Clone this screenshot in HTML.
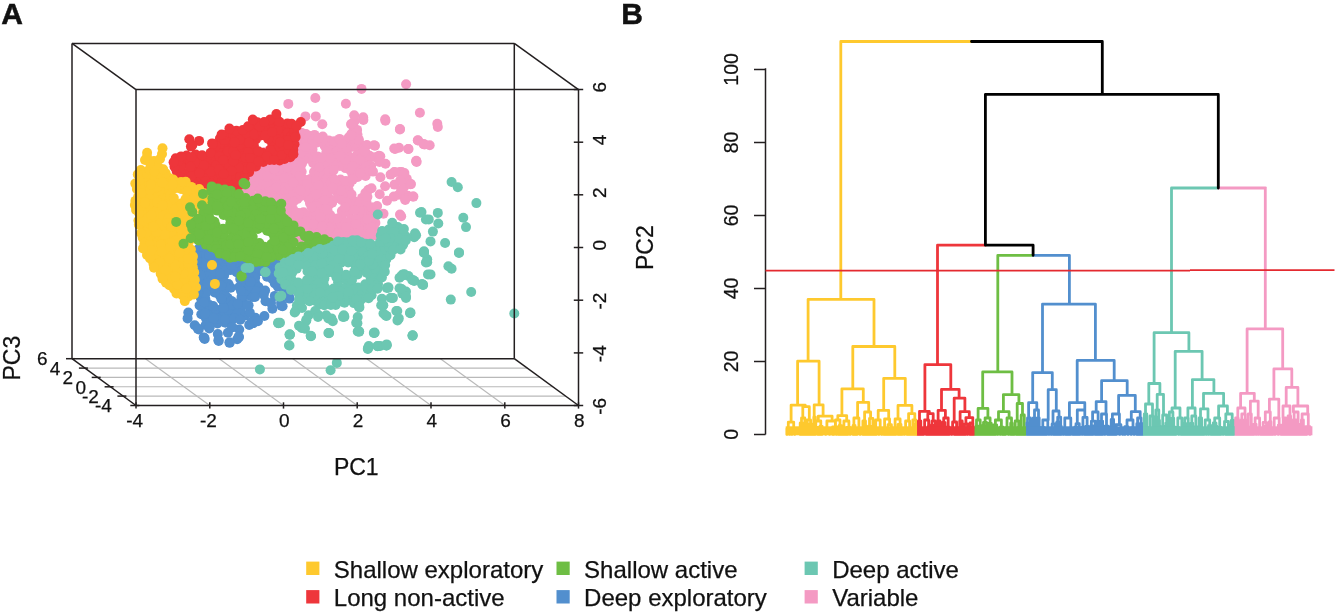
<!DOCTYPE html>
<html><head><meta charset="utf-8"><title>Figure</title>
<style>html,body{margin:0;padding:0;background:#fff;}body{width:1339px;height:614px;overflow:hidden;font-family:"Liberation Sans", sans-serif;}svg{display:block;will-change:transform;}</style>
</head><body><svg width="1339" height="614" viewBox="0 0 1339 614"><rect width="1339" height="614" fill="#fff"/><g stroke="#b9b9b9" stroke-width="1.1"><line x1="84.9" y1="368.1" x2="527.2" y2="368.1"/><line x1="97.7" y1="377.4" x2="540.0" y2="377.4"/><line x1="110.6" y1="386.8" x2="552.9" y2="386.8"/><line x1="123.4" y1="396.1" x2="565.7" y2="396.1"/><line x1="209.8" y1="405.5" x2="145.4" y2="358.7"/><line x1="283.5" y1="405.5" x2="219.2" y2="358.7"/><line x1="357.2" y1="405.5" x2="292.9" y2="358.7"/><line x1="431.0" y1="405.5" x2="366.7" y2="358.7"/><line x1="504.8" y1="405.5" x2="440.4" y2="358.7"/></g><g fill="#f49ac3"><circle cx="347.7" cy="155.1" r="5.0"/><circle cx="310.5" cy="178.9" r="5.0"/><circle cx="332.2" cy="220.5" r="5.0"/><circle cx="357.7" cy="176.9" r="5.0"/><circle cx="303.5" cy="212.3" r="5.0"/><circle cx="245.2" cy="190.2" r="5.0"/><circle cx="271.8" cy="175.6" r="5.0"/><circle cx="302.5" cy="184.6" r="5.0"/><circle cx="274.1" cy="152.1" r="5.0"/><circle cx="272.1" cy="180.2" r="5.0"/><circle cx="330.9" cy="146.6" r="5.0"/><circle cx="258.5" cy="164.6" r="5.0"/><circle cx="341.9" cy="211.0" r="5.0"/><circle cx="356.9" cy="206.0" r="5.0"/><circle cx="283.8" cy="195.9" r="5.0"/><circle cx="364.2" cy="227.6" r="5.0"/><circle cx="311.8" cy="196.0" r="5.0"/><circle cx="352.4" cy="174.6" r="5.0"/><circle cx="265.7" cy="191.1" r="5.0"/><circle cx="293.7" cy="177.6" r="5.0"/><circle cx="312.3" cy="219.3" r="5.0"/><circle cx="314.0" cy="172.0" r="5.0"/><circle cx="247.7" cy="210.1" r="5.0"/><circle cx="296.3" cy="144.7" r="5.0"/><circle cx="348.7" cy="190.0" r="5.0"/><circle cx="361.1" cy="152.3" r="5.0"/><circle cx="313.0" cy="240.6" r="5.0"/><circle cx="321.9" cy="180.1" r="5.0"/><circle cx="279.1" cy="191.0" r="5.0"/><circle cx="350.5" cy="224.4" r="5.0"/><circle cx="364.7" cy="214.6" r="5.0"/><circle cx="319.6" cy="176.0" r="5.0"/><circle cx="311.8" cy="183.3" r="5.0"/><circle cx="291.2" cy="166.2" r="5.0"/><circle cx="316.5" cy="200.3" r="5.0"/><circle cx="326.7" cy="180.0" r="5.0"/><circle cx="266.3" cy="195.5" r="5.0"/><circle cx="361.2" cy="221.7" r="5.0"/><circle cx="277.1" cy="227.0" r="5.0"/><circle cx="256.9" cy="200.4" r="5.0"/><circle cx="265.0" cy="157.3" r="5.0"/><circle cx="340.5" cy="179.6" r="5.0"/><circle cx="286.4" cy="181.9" r="5.0"/><circle cx="300.1" cy="146.8" r="5.0"/><circle cx="312.5" cy="149.4" r="5.0"/><circle cx="325.8" cy="224.0" r="5.0"/><circle cx="262.0" cy="212.0" r="5.0"/><circle cx="335.8" cy="190.6" r="5.0"/><circle cx="272.7" cy="203.3" r="5.0"/><circle cx="296.5" cy="194.4" r="5.0"/><circle cx="286.3" cy="201.2" r="5.0"/><circle cx="376.1" cy="231.2" r="5.0"/><circle cx="284.2" cy="229.1" r="5.0"/><circle cx="355.5" cy="241.8" r="5.0"/><circle cx="339.4" cy="186.2" r="5.0"/><circle cx="256.2" cy="205.5" r="5.0"/><circle cx="282.8" cy="185.1" r="5.0"/><circle cx="269.6" cy="164.0" r="5.0"/><circle cx="288.8" cy="149.9" r="5.0"/><circle cx="335.3" cy="226.5" r="5.0"/><circle cx="371.1" cy="166.0" r="5.0"/><circle cx="364.2" cy="208.1" r="5.0"/><circle cx="274.3" cy="212.8" r="5.0"/><circle cx="347.1" cy="197.4" r="5.0"/><circle cx="358.5" cy="168.9" r="5.0"/><circle cx="288.9" cy="159.5" r="5.0"/><circle cx="362.1" cy="197.9" r="5.0"/><circle cx="260.5" cy="191.4" r="5.0"/><circle cx="350.2" cy="170.1" r="5.0"/><circle cx="365.4" cy="193.0" r="5.0"/><circle cx="280.2" cy="220.3" r="5.0"/><circle cx="367.9" cy="159.8" r="5.0"/><circle cx="276.9" cy="182.3" r="5.0"/><circle cx="284.4" cy="154.0" r="5.0"/><circle cx="332.2" cy="202.7" r="5.0"/><circle cx="284.3" cy="163.9" r="5.0"/><circle cx="288.1" cy="190.5" r="5.0"/><circle cx="322.1" cy="196.9" r="5.0"/><circle cx="252.1" cy="201.7" r="5.0"/><circle cx="310.2" cy="229.6" r="5.0"/><circle cx="263.1" cy="185.3" r="5.0"/><circle cx="352.1" cy="133.2" r="5.0"/><circle cx="355.7" cy="163.0" r="5.0"/><circle cx="256.5" cy="186.9" r="5.0"/><circle cx="285.6" cy="234.6" r="5.0"/><circle cx="353.3" cy="235.0" r="5.0"/><circle cx="358.4" cy="215.3" r="5.0"/><circle cx="337.4" cy="145.6" r="5.0"/><circle cx="375.4" cy="222.9" r="5.0"/><circle cx="318.0" cy="190.2" r="5.0"/><circle cx="296.6" cy="165.3" r="5.0"/><circle cx="331.4" cy="174.9" r="5.0"/><circle cx="291.0" cy="140.7" r="5.0"/><circle cx="297.4" cy="198.9" r="5.0"/><circle cx="308.2" cy="151.4" r="5.0"/><circle cx="367.6" cy="236.3" r="5.0"/><circle cx="279.9" cy="203.1" r="5.0"/><circle cx="263.8" cy="217.7" r="5.0"/><circle cx="364.3" cy="162.0" r="5.0"/><circle cx="293.3" cy="209.8" r="5.0"/><circle cx="360.6" cy="233.8" r="5.0"/><circle cx="271.9" cy="193.6" r="5.0"/><circle cx="353.9" cy="200.9" r="5.0"/><circle cx="303.5" cy="237.2" r="5.0"/><circle cx="264.6" cy="163.7" r="5.0"/><circle cx="325.1" cy="173.9" r="5.0"/><circle cx="258.1" cy="160.0" r="5.0"/><circle cx="328.8" cy="198.1" r="5.0"/><circle cx="357.7" cy="149.1" r="5.0"/><circle cx="276.5" cy="207.6" r="5.0"/><circle cx="294.9" cy="158.6" r="5.0"/><circle cx="258.1" cy="215.4" r="5.0"/><circle cx="317.4" cy="242.1" r="5.0"/><circle cx="347.4" cy="243.2" r="5.0"/><circle cx="321.2" cy="162.0" r="5.0"/><circle cx="303.1" cy="178.9" r="5.0"/><circle cx="284.0" cy="172.8" r="5.0"/><circle cx="350.4" cy="207.6" r="5.0"/><circle cx="310.0" cy="203.2" r="5.0"/><circle cx="294.1" cy="148.8" r="5.0"/><circle cx="324.7" cy="231.9" r="5.0"/><circle cx="284.1" cy="144.7" r="5.0"/><circle cx="327.8" cy="188.9" r="5.0"/><circle cx="298.0" cy="229.4" r="5.0"/><circle cx="322.8" cy="213.8" r="5.0"/><circle cx="310.1" cy="215.3" r="5.0"/><circle cx="371.8" cy="219.8" r="5.0"/><circle cx="340.0" cy="231.0" r="5.0"/><circle cx="317.3" cy="142.4" r="5.0"/><circle cx="300.4" cy="167.3" r="5.0"/><circle cx="337.3" cy="198.0" r="5.0"/><circle cx="270.7" cy="149.3" r="5.0"/><circle cx="364.7" cy="156.8" r="5.0"/><circle cx="265.1" cy="203.9" r="5.0"/><circle cx="340.7" cy="223.7" r="5.0"/><circle cx="279.1" cy="198.6" r="5.0"/><circle cx="328.1" cy="162.6" r="5.0"/><circle cx="301.6" cy="217.2" r="5.0"/><circle cx="350.7" cy="147.1" r="5.0"/><circle cx="325.9" cy="155.9" r="5.0"/><circle cx="291.8" cy="215.9" r="5.0"/><circle cx="341.4" cy="161.3" r="5.0"/><circle cx="256.5" cy="172.5" r="5.0"/><circle cx="310.0" cy="136.0" r="5.0"/><circle cx="289.2" cy="226.6" r="5.0"/><circle cx="265.1" cy="152.2" r="5.0"/><circle cx="352.4" cy="229.0" r="5.0"/><circle cx="322.3" cy="236.5" r="5.0"/><circle cx="347.0" cy="142.5" r="5.0"/><circle cx="249.6" cy="170.3" r="5.0"/><circle cx="259.7" cy="180.6" r="5.0"/><circle cx="330.2" cy="215.1" r="5.0"/><circle cx="329.3" cy="242.7" r="5.0"/><circle cx="330.8" cy="153.6" r="5.0"/><circle cx="323.7" cy="166.7" r="5.0"/><circle cx="290.7" cy="174.4" r="5.0"/><circle cx="341.8" cy="216.0" r="5.0"/><circle cx="303.2" cy="139.5" r="5.0"/><circle cx="314.5" cy="134.9" r="5.0"/><circle cx="322.8" cy="136.6" r="5.0"/><circle cx="316.1" cy="233.8" r="5.0"/><circle cx="263.5" cy="169.2" r="5.0"/><circle cx="286.9" cy="215.6" r="5.0"/><circle cx="311.3" cy="188.3" r="5.0"/><circle cx="308.3" cy="235.8" r="5.0"/><circle cx="345.4" cy="168.1" r="5.0"/><circle cx="297.6" cy="180.8" r="5.0"/><circle cx="298.8" cy="213.1" r="5.0"/><circle cx="317.5" cy="156.4" r="5.0"/><circle cx="359.8" cy="202.7" r="5.0"/><circle cx="359.4" cy="210.9" r="5.0"/><circle cx="281.1" cy="233.1" r="5.0"/><circle cx="365.6" cy="176.0" r="5.0"/><circle cx="269.7" cy="215.4" r="5.0"/><circle cx="297.5" cy="238.7" r="5.0"/><circle cx="306.2" cy="221.4" r="5.0"/><circle cx="349.6" cy="183.4" r="5.0"/><circle cx="308.3" cy="240.6" r="5.0"/><circle cx="357.5" cy="134.7" r="5.0"/><circle cx="278.5" cy="158.0" r="5.0"/><circle cx="295.3" cy="234.8" r="5.0"/><circle cx="269.6" cy="187.7" r="5.0"/><circle cx="279.8" cy="210.4" r="5.0"/><circle cx="298.8" cy="139.7" r="5.0"/><circle cx="324.8" cy="241.5" r="5.0"/><circle cx="262.4" cy="174.5" r="5.0"/><circle cx="278.8" cy="150.1" r="5.0"/><circle cx="336.8" cy="151.5" r="5.0"/><circle cx="336.2" cy="244.6" r="5.0"/><circle cx="289.0" cy="197.5" r="5.0"/><circle cx="276.5" cy="218.2" r="5.0"/><circle cx="252.4" cy="212.7" r="5.0"/><circle cx="336.0" cy="157.3" r="5.0"/><circle cx="313.2" cy="163.3" r="5.0"/><circle cx="366.4" cy="201.4" r="5.0"/><circle cx="317.3" cy="227.3" r="5.0"/><circle cx="358.5" cy="227.8" r="5.0"/><circle cx="249.1" cy="181.5" r="5.0"/><circle cx="275.7" cy="222.9" r="5.0"/><circle cx="289.8" cy="204.4" r="5.0"/><circle cx="249.4" cy="177.1" r="5.0"/><circle cx="335.1" cy="233.1" r="5.0"/><circle cx="340.3" cy="243.4" r="5.0"/><circle cx="294.9" cy="226.1" r="5.0"/><circle cx="307.1" cy="184.2" r="5.0"/><circle cx="349.0" cy="212.5" r="5.0"/><circle cx="370.4" cy="226.8" r="5.0"/><circle cx="352.5" cy="159.2" r="5.0"/><circle cx="368.4" cy="189.7" r="5.0"/><circle cx="349.3" cy="238.5" r="5.0"/><circle cx="323.0" cy="186.7" r="5.0"/><circle cx="371.6" cy="212.7" r="5.0"/><circle cx="330.7" cy="182.5" r="5.0"/><circle cx="296.6" cy="171.5" r="5.0"/><circle cx="269.6" cy="224.0" r="5.0"/><circle cx="306.6" cy="142.1" r="5.0"/><circle cx="321.9" cy="191.7" r="5.0"/><circle cx="285.5" cy="223.4" r="5.0"/><circle cx="308.6" cy="199.0" r="5.0"/><circle cx="300.2" cy="157.1" r="5.0"/><circle cx="291.6" cy="231.4" r="5.0"/><circle cx="305.3" cy="226.1" r="5.0"/><circle cx="301.0" cy="196.0" r="5.0"/><circle cx="351.0" cy="218.9" r="5.0"/><circle cx="351.5" cy="194.4" r="5.0"/><circle cx="329.8" cy="227.7" r="5.0"/><circle cx="323.4" cy="205.2" r="5.0"/><circle cx="342.1" cy="150.7" r="5.0"/><circle cx="270.8" cy="159.2" r="5.0"/><circle cx="328.6" cy="205.3" r="5.0"/><circle cx="339.9" cy="165.9" r="5.0"/><circle cx="319.9" cy="222.6" r="5.0"/><circle cx="365.5" cy="152.3" r="5.0"/><circle cx="328.6" cy="170.9" r="5.0"/><circle cx="323.5" cy="220.3" r="5.0"/><circle cx="259.5" cy="208.5" r="5.0"/><circle cx="345.0" cy="231.6" r="5.0"/><circle cx="293.2" cy="191.7" r="5.0"/><circle cx="312.7" cy="139.7" r="5.0"/><circle cx="276.7" cy="175.6" r="5.0"/><circle cx="328.8" cy="140.4" r="5.0"/><circle cx="334.1" cy="165.7" r="5.0"/><circle cx="301.8" cy="132.9" r="5.0"/><circle cx="296.8" cy="187.8" r="5.0"/><circle cx="320.4" cy="231.0" r="5.0"/><circle cx="247.0" cy="186.0" r="5.0"/><circle cx="320.8" cy="209.6" r="5.0"/><circle cx="305.3" cy="191.5" r="5.0"/><circle cx="324.7" cy="145.9" r="5.0"/><circle cx="312.1" cy="143.9" r="5.0"/><circle cx="326.5" cy="151.4" r="5.0"/><circle cx="304.7" cy="231.4" r="5.0"/><circle cx="347.2" cy="164.0" r="5.0"/><circle cx="301.9" cy="222.9" r="5.0"/><circle cx="285.7" cy="140.6" r="5.0"/><circle cx="291.5" cy="145.1" r="5.0"/><circle cx="365.8" cy="166.5" r="5.0"/><circle cx="348.8" cy="137.3" r="5.0"/><circle cx="334.3" cy="141.3" r="5.0"/><circle cx="334.6" cy="179.8" r="5.0"/><circle cx="327.3" cy="193.4" r="5.0"/><circle cx="367.4" cy="219.3" r="5.0"/><circle cx="316.5" cy="206.5" r="5.0"/><circle cx="293.0" cy="135.6" r="5.0"/><circle cx="279.0" cy="145.1" r="5.0"/><circle cx="356.5" cy="155.6" r="5.0"/><circle cx="316.8" cy="160.9" r="5.0"/><circle cx="316.3" cy="218.2" r="5.0"/><circle cx="337.3" cy="237.6" r="5.0"/><circle cx="246.4" cy="201.9" r="5.0"/><circle cx="360.6" cy="144.8" r="5.0"/><circle cx="242.4" cy="182.8" r="5.0"/><circle cx="314.4" cy="211.4" r="5.0"/><circle cx="278.4" cy="166.6" r="5.0"/><circle cx="266.7" cy="182.6" r="5.0"/><circle cx="268.7" cy="210.4" r="5.0"/><circle cx="374.6" cy="235.3" r="5.0"/><circle cx="253.9" cy="182.7" r="5.0"/><circle cx="247.2" cy="195.8" r="5.0"/><circle cx="358.9" cy="139.7" r="5.0"/><circle cx="264.9" cy="208.1" r="5.0"/><circle cx="293.3" cy="201.9" r="5.0"/><circle cx="312.7" cy="157.1" r="5.0"/><circle cx="278.4" cy="170.9" r="5.0"/><circle cx="285.1" cy="207.9" r="5.0"/><circle cx="342.1" cy="195.3" r="5.0"/><circle cx="355.7" cy="143.3" r="5.0"/><circle cx="254.8" cy="176.6" r="5.0"/><circle cx="251.8" cy="208.2" r="5.0"/><circle cx="352.0" cy="165.9" r="5.0"/><circle cx="327.4" cy="209.8" r="5.0"/><circle cx="244.3" cy="178.2" r="5.0"/><circle cx="265.1" cy="222.9" r="5.0"/><circle cx="345.3" cy="222.4" r="5.0"/><circle cx="272.1" cy="229.2" r="5.0"/><circle cx="341.6" cy="239.0" r="5.0"/><circle cx="322.2" cy="141.1" r="5.0"/><circle cx="301.7" cy="171.8" r="5.0"/><circle cx="339.6" cy="138.9" r="5.0"/><circle cx="289.9" cy="185.8" r="5.0"/><circle cx="311.6" cy="207.2" r="5.0"/><circle cx="318.6" cy="138.2" r="5.0"/><circle cx="319.8" cy="171.8" r="5.0"/><circle cx="308.0" cy="158.4" r="5.0"/><circle cx="270.6" cy="198.5" r="5.0"/><circle cx="283.3" cy="149.6" r="5.0"/><circle cx="276.2" cy="187.3" r="5.0"/><circle cx="370.3" cy="232.6" r="5.0"/><circle cx="303.9" cy="159.6" r="5.0"/><circle cx="306.0" cy="134.0" r="5.0"/><circle cx="341.9" cy="200.1" r="5.0"/><circle cx="330.9" cy="237.0" r="5.0"/><circle cx="313.7" cy="224.4" r="5.0"/><circle cx="294.4" cy="221.5" r="5.0"/><circle cx="345.4" cy="159.7" r="5.0"/><circle cx="333.7" cy="170.1" r="5.0"/><circle cx="268.9" cy="168.6" r="5.0"/><circle cx="345.9" cy="227.1" r="5.0"/><circle cx="345.0" cy="187.5" r="5.0"/><circle cx="355.9" cy="219.1" r="5.0"/><circle cx="320.5" cy="217.3" r="5.0"/><circle cx="254.3" cy="166.7" r="5.0"/><circle cx="367.4" cy="196.8" r="5.0"/><circle cx="371.4" cy="207.3" r="5.0"/><circle cx="253.9" cy="162.1" r="5.0"/><circle cx="354.1" cy="139.1" r="5.0"/><circle cx="346.4" cy="148.3" r="5.0"/><circle cx="369.6" cy="155.7" r="5.0"/><circle cx="252.2" cy="195.9" r="5.0"/><circle cx="300.5" cy="190.5" r="5.0"/><circle cx="346.1" cy="202.3" r="5.0"/><circle cx="287.2" cy="167.5" r="5.0"/><circle cx="316.0" cy="180.7" r="5.0"/><circle cx="288.9" cy="178.4" r="5.0"/><circle cx="316.3" cy="194.4" r="5.0"/><circle cx="369.0" cy="170.6" r="5.0"/><circle cx="355.9" cy="130.7" r="5.0"/><circle cx="292.1" cy="238.7" r="5.0"/><circle cx="341.9" cy="144.1" r="5.0"/><circle cx="346.0" cy="181.1" r="5.0"/><circle cx="270.7" cy="219.9" r="5.0"/><circle cx="318.4" cy="185.0" r="5.0"/><circle cx="284.2" cy="178.0" r="5.0"/><circle cx="250.1" cy="190.1" r="5.0"/><circle cx="330.1" cy="157.9" r="5.0"/><circle cx="360.1" cy="239.6" r="5.0"/><circle cx="340.3" cy="156.1" r="5.0"/><circle cx="322.2" cy="226.4" r="5.0"/><circle cx="275.0" cy="197.9" r="5.0"/><circle cx="301.2" cy="152.4" r="5.0"/><circle cx="293.5" cy="182.6" r="5.0"/><circle cx="294.0" cy="153.8" r="5.0"/><circle cx="260.7" cy="203.6" r="5.0"/><circle cx="274.9" cy="148.0" r="5.0"/><circle cx="321.7" cy="157.6" r="5.0"/><circle cx="379.1" cy="234.9" r="5.0"/><circle cx="305.5" cy="147.0" r="5.0"/><circle cx="353.3" cy="125.9" r="5.0"/><circle cx="282.9" cy="159.6" r="5.0"/><circle cx="319.2" cy="167.2" r="5.0"/><circle cx="278.2" cy="162.2" r="5.0"/><circle cx="340.5" cy="190.4" r="5.0"/><circle cx="359.9" cy="159.5" r="5.0"/><circle cx="325.0" cy="200.0" r="5.0"/><circle cx="248.3" cy="205.8" r="5.0"/><circle cx="355.9" cy="224.1" r="5.0"/><circle cx="332.4" cy="187.8" r="5.0"/><circle cx="345.1" cy="207.1" r="5.0"/><circle cx="352.7" cy="179.6" r="5.0"/><circle cx="302.0" cy="163.5" r="5.0"/><circle cx="288.6" cy="220.6" r="5.0"/><circle cx="260.6" cy="156.0" r="5.0"/><circle cx="355.0" cy="210.0" r="5.0"/><circle cx="360.1" cy="173.0" r="5.0"/><circle cx="274.4" cy="169.2" r="5.0"/><circle cx="276.6" cy="231.8" r="5.0"/><circle cx="262.0" cy="196.4" r="5.0"/><circle cx="300.1" cy="175.9" r="5.0"/><circle cx="267.1" cy="176.6" r="5.0"/><circle cx="337.3" cy="218.5" r="5.0"/><circle cx="280.9" cy="225.0" r="5.0"/><circle cx="375.3" cy="157.2" r="5.0"/><circle cx="377.1" cy="206.1" r="5.0"/><circle cx="398.8" cy="194.7" r="5.0"/><circle cx="373.0" cy="171.6" r="5.0"/><circle cx="379.7" cy="194.2" r="5.0"/><circle cx="387.0" cy="200.7" r="5.0"/><circle cx="380.4" cy="177.3" r="5.0"/><circle cx="366.9" cy="145.0" r="5.0"/><circle cx="357.1" cy="129.9" r="5.0"/><circle cx="399.7" cy="171.9" r="5.0"/><circle cx="394.5" cy="184.6" r="5.0"/><circle cx="390.6" cy="174.6" r="5.0"/><circle cx="375.0" cy="216.5" r="5.0"/><circle cx="404.0" cy="187.1" r="5.0"/><circle cx="371.5" cy="188.3" r="5.0"/><circle cx="385.5" cy="163.8" r="5.0"/><circle cx="354.7" cy="121.0" r="5.0"/><circle cx="383.5" cy="213.7" r="5.0"/><circle cx="385.1" cy="186.3" r="5.0"/><circle cx="407.8" cy="195.7" r="5.0"/><circle cx="358.3" cy="139.4" r="5.0"/><circle cx="406.8" cy="178.8" r="5.0"/><circle cx="288.3" cy="103.9" r="5.0"/><circle cx="315.3" cy="98.0" r="5.0"/><circle cx="345.9" cy="103.7" r="5.0"/><circle cx="361.5" cy="88.9" r="5.0"/><circle cx="305.4" cy="116.4" r="5.0"/><circle cx="315.8" cy="116.4" r="5.0"/><circle cx="322.3" cy="124.2" r="5.0"/><circle cx="354.2" cy="115.3" r="5.0"/><circle cx="363.2" cy="117.2" r="5.0"/><circle cx="351.3" cy="124.5" r="5.0"/><circle cx="300.3" cy="132.7" r="5.0"/><circle cx="351.3" cy="134.3" r="5.0"/><circle cx="406.1" cy="84.3" r="5.0"/><circle cx="385.2" cy="119.3" r="5.0"/><circle cx="419.9" cy="112.7" r="5.0"/><circle cx="437.3" cy="123.7" r="5.0"/><circle cx="437.8" cy="127.0" r="5.0"/><circle cx="399.9" cy="129.4" r="5.0"/><circle cx="417.8" cy="140.3" r="5.0"/><circle cx="423.5" cy="144.1" r="5.0"/><circle cx="429.7" cy="145.2" r="5.0"/><circle cx="375.0" cy="145.7" r="5.0"/><circle cx="394.2" cy="148.5" r="5.0"/><circle cx="399.0" cy="147.8" r="5.0"/><circle cx="408.5" cy="149.0" r="5.0"/><circle cx="416.2" cy="161.2" r="5.0"/><circle cx="364.9" cy="152.2" r="5.0"/><circle cx="400.0" cy="129.0" r="5.0"/><circle cx="418.0" cy="140.4" r="5.0"/><circle cx="424.5" cy="144.4" r="5.0"/><circle cx="408.2" cy="149.0" r="5.0"/><circle cx="395.1" cy="149.0" r="5.0"/><circle cx="416.3" cy="160.7" r="5.0"/><circle cx="410.6" cy="184.3" r="5.0"/><circle cx="413.0" cy="196.5" r="5.0"/><circle cx="405.0" cy="198.2" r="5.0"/><circle cx="400.0" cy="214.5" r="5.0"/><circle cx="401.7" cy="172.0" r="5.0"/><circle cx="394.3" cy="172.0" r="5.0"/><circle cx="374.0" cy="145.2" r="5.0"/><circle cx="378.9" cy="155.8" r="5.0"/><circle cx="364.2" cy="151.0" r="5.0"/><circle cx="351.2" cy="124.0" r="5.0"/><circle cx="351.2" cy="135.5" r="5.0"/><circle cx="385.4" cy="120.8" r="5.0"/><circle cx="363.4" cy="120.0" r="5.0"/><circle cx="380.3" cy="156.3" r="5.0"/><circle cx="379.5" cy="162.0" r="5.0"/><circle cx="394.7" cy="172.2" r="5.0"/><circle cx="404.4" cy="173.0" r="5.0"/><circle cx="400.3" cy="180.3" r="5.0"/><circle cx="410.9" cy="184.1" r="5.0"/><circle cx="401.2" cy="190.1" r="5.0"/><circle cx="393.8" cy="196.6" r="5.0"/><circle cx="405.2" cy="199.9" r="5.0"/><circle cx="413.4" cy="196.6" r="5.0"/><circle cx="401.2" cy="216.2" r="5.0"/><circle cx="416.6" cy="162.0" r="5.0"/></g><g fill="#ee363b"><circle cx="255.9" cy="139.4" r="5.0"/><circle cx="248.0" cy="161.9" r="5.0"/><circle cx="226.5" cy="145.8" r="5.0"/><circle cx="290.3" cy="157.2" r="5.0"/><circle cx="228.2" cy="136.4" r="5.0"/><circle cx="230.7" cy="140.2" r="5.0"/><circle cx="220.2" cy="183.4" r="5.0"/><circle cx="238.2" cy="158.4" r="5.0"/><circle cx="256.4" cy="129.9" r="5.0"/><circle cx="217.0" cy="190.1" r="5.0"/><circle cx="291.8" cy="128.4" r="5.0"/><circle cx="230.2" cy="156.1" r="5.0"/><circle cx="233.8" cy="185.8" r="5.0"/><circle cx="235.1" cy="178.8" r="5.0"/><circle cx="284.1" cy="150.9" r="5.0"/><circle cx="262.5" cy="152.8" r="5.0"/><circle cx="285.2" cy="136.4" r="5.0"/><circle cx="253.6" cy="160.5" r="5.0"/><circle cx="285.1" cy="130.6" r="5.0"/><circle cx="201.4" cy="182.1" r="5.0"/><circle cx="186.6" cy="155.5" r="5.0"/><circle cx="278.5" cy="134.6" r="5.0"/><circle cx="225.5" cy="170.2" r="5.0"/><circle cx="194.6" cy="166.9" r="5.0"/><circle cx="176.6" cy="171.1" r="5.0"/><circle cx="273.5" cy="128.0" r="5.0"/><circle cx="249.2" cy="172.1" r="5.0"/><circle cx="231.6" cy="133.2" r="5.0"/><circle cx="281.1" cy="125.8" r="5.0"/><circle cx="245.4" cy="145.8" r="5.0"/><circle cx="291.5" cy="135.7" r="5.0"/><circle cx="175.7" cy="158.2" r="5.0"/><circle cx="185.3" cy="164.0" r="5.0"/><circle cx="204.3" cy="160.7" r="5.0"/><circle cx="260.8" cy="135.5" r="5.0"/><circle cx="225.5" cy="155.8" r="5.0"/><circle cx="237.5" cy="151.2" r="5.0"/><circle cx="211.6" cy="164.5" r="5.0"/><circle cx="272.2" cy="143.8" r="5.0"/><circle cx="248.6" cy="138.0" r="5.0"/><circle cx="294.5" cy="144.2" r="5.0"/><circle cx="199.1" cy="160.5" r="5.0"/><circle cx="182.9" cy="173.1" r="5.0"/><circle cx="221.7" cy="151.1" r="5.0"/><circle cx="183.4" cy="180.2" r="5.0"/><circle cx="217.5" cy="150.6" r="5.0"/><circle cx="271.7" cy="136.5" r="5.0"/><circle cx="274.1" cy="123.4" r="5.0"/><circle cx="253.2" cy="125.9" r="5.0"/><circle cx="195.7" cy="154.6" r="5.0"/><circle cx="232.8" cy="146.7" r="5.0"/><circle cx="223.0" cy="166.4" r="5.0"/><circle cx="263.2" cy="161.9" r="5.0"/><circle cx="267.8" cy="131.2" r="5.0"/><circle cx="197.0" cy="176.8" r="5.0"/><circle cx="190.5" cy="162.3" r="5.0"/><circle cx="243.1" cy="151.4" r="5.0"/><circle cx="198.7" cy="189.0" r="5.0"/><circle cx="233.1" cy="167.0" r="5.0"/><circle cx="194.9" cy="172.7" r="5.0"/><circle cx="239.7" cy="145.0" r="5.0"/><circle cx="228.0" cy="181.8" r="5.0"/><circle cx="253.9" cy="145.8" r="5.0"/><circle cx="207.6" cy="188.3" r="5.0"/><circle cx="187.3" cy="177.8" r="5.0"/><circle cx="220.1" cy="143.7" r="5.0"/><circle cx="227.9" cy="164.4" r="5.0"/><circle cx="287.8" cy="140.8" r="5.0"/><circle cx="222.7" cy="178.2" r="5.0"/><circle cx="215.6" cy="182.4" r="5.0"/><circle cx="287.4" cy="154.1" r="5.0"/><circle cx="240.2" cy="134.0" r="5.0"/><circle cx="287.4" cy="123.4" r="5.0"/><circle cx="219.3" cy="174.0" r="5.0"/><circle cx="278.1" cy="148.6" r="5.0"/><circle cx="269.3" cy="126.2" r="5.0"/><circle cx="215.1" cy="174.0" r="5.0"/><circle cx="212.5" cy="179.3" r="5.0"/><circle cx="189.3" cy="186.8" r="5.0"/><circle cx="274.6" cy="155.6" r="5.0"/><circle cx="220.1" cy="163.1" r="5.0"/><circle cx="250.6" cy="132.0" r="5.0"/><circle cx="219.9" cy="138.6" r="5.0"/><circle cx="201.7" cy="169.1" r="5.0"/><circle cx="244.8" cy="164.8" r="5.0"/><circle cx="284.5" cy="159.0" r="5.0"/><circle cx="214.5" cy="156.7" r="5.0"/><circle cx="270.2" cy="149.9" r="5.0"/><circle cx="244.0" cy="139.5" r="5.0"/><circle cx="276.4" cy="138.7" r="5.0"/><circle cx="276.0" cy="117.6" r="5.0"/><circle cx="252.8" cy="153.5" r="5.0"/><circle cx="181.1" cy="166.3" r="5.0"/><circle cx="184.6" cy="187.4" r="5.0"/><circle cx="269.7" cy="159.9" r="5.0"/><circle cx="239.6" cy="162.6" r="5.0"/><circle cx="174.5" cy="166.8" r="5.0"/><circle cx="179.0" cy="160.9" r="5.0"/><circle cx="203.8" cy="175.5" r="5.0"/><circle cx="283.5" cy="146.5" r="5.0"/><circle cx="235.0" cy="137.4" r="5.0"/><circle cx="227.3" cy="187.8" r="5.0"/><circle cx="227.9" cy="151.2" r="5.0"/><circle cx="241.9" cy="156.5" r="5.0"/><circle cx="255.9" cy="166.5" r="5.0"/><circle cx="243.4" cy="170.9" r="5.0"/><circle cx="245.6" cy="134.1" r="5.0"/><circle cx="279.6" cy="160.4" r="5.0"/><circle cx="211.0" cy="159.2" r="5.0"/><circle cx="249.0" cy="142.7" r="5.0"/><circle cx="190.3" cy="171.8" r="5.0"/><circle cx="243.2" cy="182.4" r="5.0"/><circle cx="206.5" cy="156.9" r="5.0"/><circle cx="239.6" cy="139.8" r="5.0"/><circle cx="215.9" cy="145.9" r="5.0"/><circle cx="202.1" cy="155.2" r="5.0"/><circle cx="236.9" cy="171.7" r="5.0"/><circle cx="270.3" cy="119.4" r="5.0"/><circle cx="293.3" cy="149.7" r="5.0"/><circle cx="261.6" cy="157.1" r="5.0"/><circle cx="248.2" cy="152.3" r="5.0"/><circle cx="209.6" cy="175.6" r="5.0"/><circle cx="268.2" cy="138.9" r="5.0"/><circle cx="264.0" cy="122.7" r="5.0"/><circle cx="207.5" cy="168.9" r="5.0"/><circle cx="194.9" cy="162.6" r="5.0"/><circle cx="191.3" cy="157.3" r="5.0"/><circle cx="180.2" cy="177.0" r="5.0"/><circle cx="230.7" cy="175.4" r="5.0"/><circle cx="245.8" cy="158.0" r="5.0"/><circle cx="222.1" cy="191.1" r="5.0"/><circle cx="257.4" cy="122.3" r="5.0"/><circle cx="206.1" cy="181.4" r="5.0"/><circle cx="210.6" cy="152.8" r="5.0"/><circle cx="257.4" cy="155.6" r="5.0"/><circle cx="240.1" cy="176.5" r="5.0"/><circle cx="251.0" cy="167.8" r="5.0"/><circle cx="238.7" cy="167.6" r="5.0"/><circle cx="266.8" cy="156.3" r="5.0"/><circle cx="216.1" cy="165.5" r="5.0"/><circle cx="211.1" cy="183.7" r="5.0"/><circle cx="239.0" cy="185.5" r="5.0"/><circle cx="280.1" cy="142.3" r="5.0"/><circle cx="258.3" cy="151.2" r="5.0"/><circle cx="254.4" cy="134.4" r="5.0"/><circle cx="262.5" cy="131.7" r="5.0"/><circle cx="193.2" cy="182.5" r="5.0"/><circle cx="224.2" cy="140.0" r="5.0"/><circle cx="219.5" cy="156.5" r="5.0"/><circle cx="233.5" cy="161.3" r="5.0"/><circle cx="281.9" cy="155.1" r="5.0"/><circle cx="294.1" cy="132.3" r="5.0"/><circle cx="278.1" cy="129.7" r="5.0"/><circle cx="191.3" cy="175.9" r="5.0"/><circle cx="223.8" cy="135.1" r="5.0"/><circle cx="250.1" cy="157.9" r="5.0"/><circle cx="235.3" cy="190.0" r="5.0"/><circle cx="258.5" cy="161.5" r="5.0"/><circle cx="181.1" cy="156.4" r="5.0"/><circle cx="236.4" cy="130.7" r="5.0"/><circle cx="226.9" cy="177.6" r="5.0"/><circle cx="279.4" cy="121.8" r="5.0"/><circle cx="288.8" cy="150.0" r="5.0"/><circle cx="295.6" cy="136.9" r="5.0"/><circle cx="223.1" cy="160.0" r="5.0"/><circle cx="193.4" cy="189.7" r="5.0"/><circle cx="264.3" cy="127.1" r="5.0"/><circle cx="242.8" cy="130.0" r="5.0"/><circle cx="210.9" cy="171.6" r="5.0"/><circle cx="248.1" cy="126.3" r="5.0"/><circle cx="190.4" cy="166.7" r="5.0"/><circle cx="233.2" cy="151.2" r="5.0"/><circle cx="178.3" cy="181.0" r="5.0"/><circle cx="293.4" cy="154.3" r="5.0"/><circle cx="231.5" cy="170.9" r="5.0"/><circle cx="291.6" cy="123.7" r="5.0"/><circle cx="218.9" cy="169.6" r="5.0"/><circle cx="202.3" cy="191.3" r="5.0"/><circle cx="186.5" cy="183.2" r="5.0"/><circle cx="223.2" cy="186.7" r="5.0"/><circle cx="180.6" cy="184.6" r="5.0"/><circle cx="173.6" cy="162.2" r="5.0"/><circle cx="244.6" cy="178.2" r="5.0"/><circle cx="234.6" cy="142.4" r="5.0"/><circle cx="214.0" cy="186.9" r="5.0"/><circle cx="203.9" cy="165.5" r="5.0"/><circle cx="235.6" cy="155.1" r="5.0"/><circle cx="265.2" cy="135.5" r="5.0"/><circle cx="223.6" cy="174.1" r="5.0"/><circle cx="274.1" cy="159.9" r="5.0"/><circle cx="199.4" cy="173.1" r="5.0"/><circle cx="272.1" cy="132.1" r="5.0"/><circle cx="259.7" cy="126.5" r="5.0"/><circle cx="288.2" cy="145.0" r="5.0"/><circle cx="189.3" cy="139.3" r="5.0"/><circle cx="199.1" cy="140.9" r="5.0"/><circle cx="190.9" cy="146.6" r="5.0"/><circle cx="212.1" cy="143.4" r="5.0"/><circle cx="192.3" cy="145.2" r="5.0"/><circle cx="276.4" cy="114.0" r="5.0"/><circle cx="252.8" cy="119.6" r="5.0"/><circle cx="264.2" cy="122.0" r="5.0"/><circle cx="300.8" cy="122.0" r="5.0"/><circle cx="296.7" cy="126.2" r="5.0"/><circle cx="229.4" cy="128.6" r="5.0"/><circle cx="221.6" cy="134.5" r="5.0"/><circle cx="212.8" cy="143.9" r="5.0"/></g><g fill="#528fce"><circle cx="218.2" cy="289.0" r="5.0"/><circle cx="220.3" cy="263.7" r="5.0"/><circle cx="289.9" cy="283.0" r="5.0"/><circle cx="274.8" cy="283.5" r="5.0"/><circle cx="256.2" cy="256.9" r="5.0"/><circle cx="233.1" cy="309.9" r="5.0"/><circle cx="208.6" cy="262.3" r="5.0"/><circle cx="255.0" cy="269.2" r="5.0"/><circle cx="243.7" cy="276.1" r="5.0"/><circle cx="263.2" cy="261.8" r="5.0"/><circle cx="204.1" cy="309.9" r="5.0"/><circle cx="234.6" cy="256.9" r="5.0"/><circle cx="223.5" cy="307.3" r="5.0"/><circle cx="263.7" cy="271.6" r="5.0"/><circle cx="214.4" cy="277.9" r="5.0"/><circle cx="225.4" cy="322.8" r="5.0"/><circle cx="280.5" cy="275.4" r="5.0"/><circle cx="239.3" cy="287.0" r="5.0"/><circle cx="256.6" cy="293.2" r="5.0"/><circle cx="248.6" cy="295.2" r="5.0"/><circle cx="284.7" cy="286.0" r="5.0"/><circle cx="236.5" cy="303.4" r="5.0"/><circle cx="218.2" cy="269.2" r="5.0"/><circle cx="255.1" cy="282.6" r="5.0"/><circle cx="197.8" cy="249.5" r="5.0"/><circle cx="219.5" cy="281.8" r="5.0"/><circle cx="230.2" cy="270.1" r="5.0"/><circle cx="224.1" cy="275.4" r="5.0"/><circle cx="225.1" cy="262.8" r="5.0"/><circle cx="271.8" cy="264.1" r="5.0"/><circle cx="227.6" cy="297.7" r="5.0"/><circle cx="279.4" cy="281.4" r="5.0"/><circle cx="217.0" cy="254.5" r="5.0"/><circle cx="245.8" cy="260.2" r="5.0"/><circle cx="213.1" cy="267.3" r="5.0"/><circle cx="272.0" cy="272.8" r="5.0"/><circle cx="208.0" cy="268.4" r="5.0"/><circle cx="258.4" cy="286.9" r="5.0"/><circle cx="219.6" cy="314.9" r="5.0"/><circle cx="240.9" cy="308.4" r="5.0"/><circle cx="229.0" cy="260.7" r="5.0"/><circle cx="211.9" cy="309.2" r="5.0"/><circle cx="200.5" cy="266.7" r="5.0"/><circle cx="200.9" cy="255.0" r="5.0"/><circle cx="207.5" cy="250.2" r="5.0"/><circle cx="203.9" cy="285.6" r="5.0"/><circle cx="225.6" cy="270.3" r="5.0"/><circle cx="251.2" cy="274.0" r="5.0"/><circle cx="207.4" cy="289.9" r="5.0"/><circle cx="203.3" cy="259.2" r="5.0"/><circle cx="242.7" cy="301.9" r="5.0"/><circle cx="239.3" cy="264.6" r="5.0"/><circle cx="202.5" cy="279.3" r="5.0"/><circle cx="236.0" cy="316.4" r="5.0"/><circle cx="265.1" cy="290.6" r="5.0"/><circle cx="207.2" cy="313.5" r="5.0"/><circle cx="201.5" cy="271.1" r="5.0"/><circle cx="218.6" cy="259.3" r="5.0"/><circle cx="219.4" cy="294.9" r="5.0"/><circle cx="267.0" cy="276.7" r="5.0"/><circle cx="287.8" cy="278.3" r="5.0"/><circle cx="241.5" cy="297.1" r="5.0"/><circle cx="204.8" cy="305.6" r="5.0"/><circle cx="214.6" cy="292.4" r="5.0"/><circle cx="223.7" cy="302.1" r="5.0"/><circle cx="251.0" cy="266.4" r="5.0"/><circle cx="212.0" cy="274.0" r="5.0"/><circle cx="276.8" cy="277.3" r="5.0"/><circle cx="276.5" cy="264.4" r="5.0"/><circle cx="284.8" cy="275.1" r="5.0"/><circle cx="212.7" cy="317.2" r="5.0"/><circle cx="252.2" cy="289.9" r="5.0"/><circle cx="229.1" cy="313.7" r="5.0"/><circle cx="205.2" cy="253.8" r="5.0"/><circle cx="213.2" cy="260.0" r="5.0"/><circle cx="251.7" cy="256.6" r="5.0"/><circle cx="245.6" cy="291.0" r="5.0"/><circle cx="245.3" cy="282.2" r="5.0"/><circle cx="214.0" cy="287.8" r="5.0"/><circle cx="199.2" cy="285.4" r="5.0"/><circle cx="224.5" cy="282.5" r="5.0"/><circle cx="230.8" cy="287.8" r="5.0"/><circle cx="201.4" cy="246.4" r="5.0"/><circle cx="240.6" cy="258.0" r="5.0"/><circle cx="264.6" cy="267.0" r="5.0"/><circle cx="284.0" cy="269.1" r="5.0"/><circle cx="200.8" cy="298.0" r="5.0"/><circle cx="224.6" cy="294.1" r="5.0"/><circle cx="206.6" cy="276.4" r="5.0"/><circle cx="235.0" cy="263.3" r="5.0"/><circle cx="217.5" cy="323.5" r="5.0"/><circle cx="212.5" cy="251.1" r="5.0"/><circle cx="228.5" cy="284.1" r="5.0"/><circle cx="202.5" cy="289.7" r="5.0"/><circle cx="199.6" cy="305.4" r="5.0"/><circle cx="228.3" cy="305.1" r="5.0"/><circle cx="236.6" cy="272.2" r="5.0"/><circle cx="219.1" cy="310.0" r="5.0"/><circle cx="225.5" cy="287.2" r="5.0"/><circle cx="205.4" cy="299.2" r="5.0"/><circle cx="222.4" cy="255.3" r="5.0"/><circle cx="267.6" cy="259.0" r="5.0"/><circle cx="209.5" cy="255.0" r="5.0"/><circle cx="229.1" cy="319.3" r="5.0"/><circle cx="288.4" cy="264.7" r="5.0"/><circle cx="201.3" cy="314.3" r="5.0"/><circle cx="203.8" cy="263.5" r="5.0"/><circle cx="246.7" cy="267.8" r="5.0"/><circle cx="224.0" cy="318.0" r="5.0"/><circle cx="227.9" cy="253.7" r="5.0"/><circle cx="241.0" cy="290.9" r="5.0"/><circle cx="277.9" cy="286.7" r="5.0"/><circle cx="249.8" cy="286.3" r="5.0"/><circle cx="258.9" cy="271.2" r="5.0"/><circle cx="220.0" cy="273.8" r="5.0"/><circle cx="284.4" cy="263.3" r="5.0"/><circle cx="223.9" cy="312.9" r="5.0"/><circle cx="205.8" cy="317.9" r="5.0"/><circle cx="274.4" cy="260.3" r="5.0"/><circle cx="270.0" cy="268.9" r="5.0"/><circle cx="253.9" cy="263.2" r="5.0"/><circle cx="276.1" cy="269.3" r="5.0"/><circle cx="260.7" cy="291.8" r="5.0"/><circle cx="258.0" cy="265.4" r="5.0"/><circle cx="198.1" cy="280.3" r="5.0"/><circle cx="255.2" cy="277.6" r="5.0"/><circle cx="196.6" cy="260.0" r="5.0"/><circle cx="217.5" cy="318.8" r="5.0"/><circle cx="240.2" cy="278.9" r="5.0"/><circle cx="248.7" cy="278.1" r="5.0"/><circle cx="289.1" cy="273.7" r="5.0"/><circle cx="214.7" cy="283.1" r="5.0"/><circle cx="283.3" cy="279.7" r="5.0"/><circle cx="272.1" cy="278.8" r="5.0"/><circle cx="211.0" cy="280.6" r="5.0"/><circle cx="242.1" cy="270.4" r="5.0"/><circle cx="237.8" cy="312.1" r="5.0"/><circle cx="221.4" cy="285.8" r="5.0"/><circle cx="207.4" cy="283.1" r="5.0"/><circle cx="231.4" cy="300.9" r="5.0"/><circle cx="197.3" cy="271.6" r="5.0"/><circle cx="228.2" cy="309.6" r="5.0"/><circle cx="205.6" cy="293.8" r="5.0"/><circle cx="243.8" cy="263.9" r="5.0"/><circle cx="200.5" cy="275.3" r="5.0"/><circle cx="198.2" cy="292.2" r="5.0"/><circle cx="247.1" cy="273.0" r="5.0"/><circle cx="209.7" cy="320.6" r="5.0"/><circle cx="196.4" cy="255.0" r="5.0"/><circle cx="252.8" cy="296.9" r="5.0"/><circle cx="221.3" cy="298.7" r="5.0"/><circle cx="232.6" cy="305.1" r="5.0"/><circle cx="260.4" cy="257.6" r="5.0"/><circle cx="250.5" cy="282.0" r="5.0"/><circle cx="209.5" cy="305.1" r="5.0"/><circle cx="231.1" cy="265.1" r="5.0"/><circle cx="213.7" cy="318.3" r="5.0"/><circle cx="237.8" cy="304.3" r="5.0"/><circle cx="265.5" cy="301.2" r="5.0"/><circle cx="249.2" cy="324.9" r="5.0"/><circle cx="281.1" cy="302.8" r="5.0"/><circle cx="204.9" cy="313.8" r="5.0"/><circle cx="204.1" cy="302.3" r="5.0"/><circle cx="239.2" cy="329.5" r="5.0"/><circle cx="223.5" cy="308.0" r="5.0"/><circle cx="264.4" cy="316.0" r="5.0"/><circle cx="227.9" cy="332.8" r="5.0"/><circle cx="194.7" cy="325.3" r="5.0"/><circle cx="204.7" cy="338.9" r="5.0"/><circle cx="225.0" cy="319.4" r="5.0"/><circle cx="284.0" cy="290.4" r="5.0"/><circle cx="205.7" cy="325.0" r="5.0"/><circle cx="217.8" cy="334.1" r="5.0"/><circle cx="233.9" cy="318.4" r="5.0"/><circle cx="274.8" cy="295.9" r="5.0"/><circle cx="289.4" cy="298.6" r="5.0"/><circle cx="256.5" cy="291.6" r="5.0"/><circle cx="213.1" cy="306.1" r="5.0"/><circle cx="272.4" cy="308.7" r="5.0"/><circle cx="244.9" cy="315.6" r="5.0"/><circle cx="255.4" cy="317.7" r="5.0"/><circle cx="237.2" cy="339.3" r="5.0"/><circle cx="204.0" cy="337.8" r="5.0"/><circle cx="218.7" cy="340.9" r="5.0"/><circle cx="229.8" cy="342.6" r="5.0"/><circle cx="239.0" cy="337.1" r="5.0"/><circle cx="209.3" cy="328.4" r="5.0"/><circle cx="198.8" cy="329.4" r="5.0"/><circle cx="232.3" cy="327.3" r="5.0"/><circle cx="253.2" cy="323.1" r="5.0"/><circle cx="282.6" cy="306.2" r="5.0"/><circle cx="289.0" cy="296.4" r="5.0"/><circle cx="289.9" cy="277.7" r="5.0"/><circle cx="274.4" cy="274.4" r="5.0"/><circle cx="251.9" cy="321.6" r="5.0"/><circle cx="248.6" cy="305.3" r="5.0"/><circle cx="188.3" cy="312.5" r="5.0"/><circle cx="187.6" cy="318.4" r="5.0"/><circle cx="197.8" cy="328.6" r="5.0"/><circle cx="203.7" cy="337.4" r="5.0"/><circle cx="209.6" cy="327.2" r="5.0"/><circle cx="218.4" cy="340.3" r="5.0"/><circle cx="229.4" cy="342.6" r="5.0"/><circle cx="238.6" cy="336.7" r="5.0"/><circle cx="232.3" cy="327.2" r="5.0"/><circle cx="240.3" cy="319.8" r="5.0"/><circle cx="249.8" cy="312.5" r="5.0"/><circle cx="255.0" cy="321.3" r="5.0"/><circle cx="257.9" cy="321.3" r="5.0"/><circle cx="247.7" cy="305.2" r="5.0"/><circle cx="271.0" cy="303.0" r="5.0"/><circle cx="281.4" cy="305.8" r="5.0"/><circle cx="263.8" cy="294.8" r="5.0"/><circle cx="255.0" cy="297.0" r="5.0"/></g><g fill="#fec92e"><circle cx="151.2" cy="179.8" r="5.0"/><circle cx="163.2" cy="186.9" r="5.0"/><circle cx="138.5" cy="220.5" r="5.0"/><circle cx="190.9" cy="196.0" r="5.0"/><circle cx="173.7" cy="203.4" r="5.0"/><circle cx="146.5" cy="180.2" r="5.0"/><circle cx="193.5" cy="192.1" r="5.0"/><circle cx="156.7" cy="251.1" r="5.0"/><circle cx="188.4" cy="282.1" r="5.0"/><circle cx="178.9" cy="257.2" r="5.0"/><circle cx="171.4" cy="190.0" r="5.0"/><circle cx="169.0" cy="177.9" r="5.0"/><circle cx="171.6" cy="222.1" r="5.0"/><circle cx="178.4" cy="224.5" r="5.0"/><circle cx="145.6" cy="207.3" r="5.0"/><circle cx="154.5" cy="238.6" r="5.0"/><circle cx="168.8" cy="212.5" r="5.0"/><circle cx="164.5" cy="193.4" r="5.0"/><circle cx="180.9" cy="203.4" r="5.0"/><circle cx="160.2" cy="267.5" r="5.0"/><circle cx="157.6" cy="241.8" r="5.0"/><circle cx="138.1" cy="196.9" r="5.0"/><circle cx="190.9" cy="249.6" r="5.0"/><circle cx="151.3" cy="210.9" r="5.0"/><circle cx="146.8" cy="228.3" r="5.0"/><circle cx="188.6" cy="296.5" r="5.0"/><circle cx="134.9" cy="205.1" r="5.0"/><circle cx="180.0" cy="277.1" r="5.0"/><circle cx="155.5" cy="191.8" r="5.0"/><circle cx="166.8" cy="184.4" r="5.0"/><circle cx="158.4" cy="167.1" r="5.0"/><circle cx="136.9" cy="188.9" r="5.0"/><circle cx="149.1" cy="173.9" r="5.0"/><circle cx="184.2" cy="186.2" r="5.0"/><circle cx="142.7" cy="237.8" r="5.0"/><circle cx="191.5" cy="221.5" r="5.0"/><circle cx="151.6" cy="221.7" r="5.0"/><circle cx="195.8" cy="233.7" r="5.0"/><circle cx="151.7" cy="194.1" r="5.0"/><circle cx="144.1" cy="172.8" r="5.0"/><circle cx="192.8" cy="267.2" r="5.0"/><circle cx="158.7" cy="255.2" r="5.0"/><circle cx="181.1" cy="243.3" r="5.0"/><circle cx="189.5" cy="292.1" r="5.0"/><circle cx="194.2" cy="272.4" r="5.0"/><circle cx="199.4" cy="193.2" r="5.0"/><circle cx="183.8" cy="210.8" r="5.0"/><circle cx="168.9" cy="237.4" r="5.0"/><circle cx="178.1" cy="232.3" r="5.0"/><circle cx="143.9" cy="215.1" r="5.0"/><circle cx="191.1" cy="237.0" r="5.0"/><circle cx="174.2" cy="217.7" r="5.0"/><circle cx="192.5" cy="208.1" r="5.0"/><circle cx="151.0" cy="232.0" r="5.0"/><circle cx="166.0" cy="282.6" r="5.0"/><circle cx="165.2" cy="274.5" r="5.0"/><circle cx="146.7" cy="186.1" r="5.0"/><circle cx="174.1" cy="288.9" r="5.0"/><circle cx="170.0" cy="263.2" r="5.0"/><circle cx="184.2" cy="248.8" r="5.0"/><circle cx="139.7" cy="185.4" r="5.0"/><circle cx="176.7" cy="213.5" r="5.0"/><circle cx="147.0" cy="254.9" r="5.0"/><circle cx="158.0" cy="206.7" r="5.0"/><circle cx="176.5" cy="293.5" r="5.0"/><circle cx="184.1" cy="267.2" r="5.0"/><circle cx="164.0" cy="247.3" r="5.0"/><circle cx="156.7" cy="197.1" r="5.0"/><circle cx="163.5" cy="220.3" r="5.0"/><circle cx="194.8" cy="204.4" r="5.0"/><circle cx="147.3" cy="239.3" r="5.0"/><circle cx="178.8" cy="208.3" r="5.0"/><circle cx="140.4" cy="200.9" r="5.0"/><circle cx="144.7" cy="198.2" r="5.0"/><circle cx="184.5" cy="240.3" r="5.0"/><circle cx="205.4" cy="201.5" r="5.0"/><circle cx="140.8" cy="170.1" r="5.0"/><circle cx="157.2" cy="182.4" r="5.0"/><circle cx="182.6" cy="295.5" r="5.0"/><circle cx="175.5" cy="260.2" r="5.0"/><circle cx="199.1" cy="200.6" r="5.0"/><circle cx="162.9" cy="258.7" r="5.0"/><circle cx="201.9" cy="207.3" r="5.0"/><circle cx="182.0" cy="287.9" r="5.0"/><circle cx="196.0" cy="287.2" r="5.0"/><circle cx="182.9" cy="260.9" r="5.0"/><circle cx="178.8" cy="237.5" r="5.0"/><circle cx="185.7" cy="181.7" r="5.0"/><circle cx="189.6" cy="276.9" r="5.0"/><circle cx="155.9" cy="218.7" r="5.0"/><circle cx="155.9" cy="259.8" r="5.0"/><circle cx="192.6" cy="261.7" r="5.0"/><circle cx="159.0" cy="227.8" r="5.0"/><circle cx="147.1" cy="193.8" r="5.0"/><circle cx="136.1" cy="209.9" r="5.0"/><circle cx="183.6" cy="280.6" r="5.0"/><circle cx="141.3" cy="193.0" r="5.0"/><circle cx="174.5" cy="239.4" r="5.0"/><circle cx="150.0" cy="198.2" r="5.0"/><circle cx="149.5" cy="169.4" r="5.0"/><circle cx="200.6" cy="231.4" r="5.0"/><circle cx="147.1" cy="249.5" r="5.0"/><circle cx="178.5" cy="247.4" r="5.0"/><circle cx="166.1" cy="208.6" r="5.0"/><circle cx="181.1" cy="188.9" r="5.0"/><circle cx="138.9" cy="224.8" r="5.0"/><circle cx="157.8" cy="212.0" r="5.0"/><circle cx="154.3" cy="245.7" r="5.0"/><circle cx="169.7" cy="254.5" r="5.0"/><circle cx="174.3" cy="244.8" r="5.0"/><circle cx="163.0" cy="198.7" r="5.0"/><circle cx="155.3" cy="177.9" r="5.0"/><circle cx="188.8" cy="241.7" r="5.0"/><circle cx="206.6" cy="212.5" r="5.0"/><circle cx="166.0" cy="265.3" r="5.0"/><circle cx="162.9" cy="177.5" r="5.0"/><circle cx="188.8" cy="269.0" r="5.0"/><circle cx="169.4" cy="285.2" r="5.0"/><circle cx="160.1" cy="223.2" r="5.0"/><circle cx="190.7" cy="229.7" r="5.0"/><circle cx="189.1" cy="204.0" r="5.0"/><circle cx="153.4" cy="263.4" r="5.0"/><circle cx="159.6" cy="235.0" r="5.0"/><circle cx="191.3" cy="186.9" r="5.0"/><circle cx="194.8" cy="279.9" r="5.0"/><circle cx="137.8" cy="174.4" r="5.0"/><circle cx="202.1" cy="211.8" r="5.0"/><circle cx="181.1" cy="181.9" r="5.0"/><circle cx="186.3" cy="224.1" r="5.0"/><circle cx="162.8" cy="239.8" r="5.0"/><circle cx="145.7" cy="232.7" r="5.0"/><circle cx="186.6" cy="191.7" r="5.0"/><circle cx="195.0" cy="226.9" r="5.0"/><circle cx="171.3" cy="232.3" r="5.0"/><circle cx="180.5" cy="220.1" r="5.0"/><circle cx="170.5" cy="200.7" r="5.0"/><circle cx="161.0" cy="244.3" r="5.0"/><circle cx="203.0" cy="226.3" r="5.0"/><circle cx="160.7" cy="273.7" r="5.0"/><circle cx="172.0" cy="270.9" r="5.0"/><circle cx="143.7" cy="221.3" r="5.0"/><circle cx="188.6" cy="263.3" r="5.0"/><circle cx="165.1" cy="226.9" r="5.0"/><circle cx="182.4" cy="234.5" r="5.0"/><circle cx="204.1" cy="193.2" r="5.0"/><circle cx="141.1" cy="233.2" r="5.0"/><circle cx="163.3" cy="215.7" r="5.0"/><circle cx="199.2" cy="189.0" r="5.0"/><circle cx="181.6" cy="229.5" r="5.0"/><circle cx="183.4" cy="273.5" r="5.0"/><circle cx="186.4" cy="253.9" r="5.0"/><circle cx="164.6" cy="234.6" r="5.0"/><circle cx="175.1" cy="281.0" r="5.0"/><circle cx="170.3" cy="242.9" r="5.0"/><circle cx="160.1" cy="262.8" r="5.0"/><circle cx="144.4" cy="243.4" r="5.0"/><circle cx="175.6" cy="188.1" r="5.0"/><circle cx="153.3" cy="206.4" r="5.0"/><circle cx="170.4" cy="275.9" r="5.0"/><circle cx="173.0" cy="250.5" r="5.0"/><circle cx="187.0" cy="207.9" r="5.0"/><circle cx="181.1" cy="214.7" r="5.0"/><circle cx="192.9" cy="256.4" r="5.0"/><circle cx="195.7" cy="238.4" r="5.0"/><circle cx="139.2" cy="213.2" r="5.0"/><circle cx="179.0" cy="266.7" r="5.0"/><circle cx="150.0" cy="190.1" r="5.0"/><circle cx="173.2" cy="179.5" r="5.0"/><circle cx="186.5" cy="215.1" r="5.0"/><circle cx="165.5" cy="270.1" r="5.0"/><circle cx="185.6" cy="199.0" r="5.0"/><circle cx="159.9" cy="190.6" r="5.0"/><circle cx="173.3" cy="209.1" r="5.0"/><circle cx="168.7" cy="218.0" r="5.0"/><circle cx="161.8" cy="251.4" r="5.0"/><circle cx="141.0" cy="206.0" r="5.0"/><circle cx="177.0" cy="271.1" r="5.0"/><circle cx="159.1" cy="173.7" r="5.0"/><circle cx="167.2" cy="204.2" r="5.0"/><circle cx="139.4" cy="180.2" r="5.0"/><circle cx="175.6" cy="254.5" r="5.0"/><circle cx="193.9" cy="294.5" r="5.0"/><circle cx="149.9" cy="245.1" r="5.0"/><circle cx="150.1" cy="258.4" r="5.0"/><circle cx="167.3" cy="222.9" r="5.0"/><circle cx="190.8" cy="286.4" r="5.0"/><circle cx="165.7" cy="173.2" r="5.0"/><circle cx="149.4" cy="204.0" r="5.0"/><circle cx="177.6" cy="284.8" r="5.0"/><circle cx="154.0" cy="267.8" r="5.0"/><circle cx="207.9" cy="206.4" r="5.0"/><circle cx="179.6" cy="253.0" r="5.0"/><circle cx="207.5" cy="197.6" r="5.0"/><circle cx="157.3" cy="187.3" r="5.0"/><circle cx="156.4" cy="232.1" r="5.0"/><circle cx="170.0" cy="195.9" r="5.0"/><circle cx="205.3" cy="219.0" r="5.0"/><circle cx="147.8" cy="218.3" r="5.0"/><circle cx="151.2" cy="250.6" r="5.0"/><circle cx="172.8" cy="184.5" r="5.0"/><circle cx="154.5" cy="171.5" r="5.0"/><circle cx="175.2" cy="264.7" r="5.0"/><circle cx="153.4" cy="226.5" r="5.0"/><circle cx="170.2" cy="247.1" r="5.0"/><circle cx="135.3" cy="183.6" r="5.0"/><circle cx="151.3" cy="215.1" r="5.0"/><circle cx="157.3" cy="202.4" r="5.0"/><circle cx="185.7" cy="244.6" r="5.0"/><circle cx="173.8" cy="198.0" r="5.0"/><circle cx="162.5" cy="278.8" r="5.0"/><circle cx="162.6" cy="205.3" r="5.0"/><circle cx="194.2" cy="198.8" r="5.0"/><circle cx="186.6" cy="288.7" r="5.0"/><circle cx="175.4" cy="276.6" r="5.0"/><circle cx="188.1" cy="258.9" r="5.0"/><circle cx="163.2" cy="169.2" r="5.0"/><circle cx="162.3" cy="182.4" r="5.0"/><circle cx="150.9" cy="184.5" r="5.0"/><circle cx="171.6" cy="226.8" r="5.0"/><circle cx="184.8" cy="301.1" r="5.0"/><circle cx="135.4" cy="200.9" r="5.0"/><circle cx="187.5" cy="219.7" r="5.0"/><circle cx="186.5" cy="236.5" r="5.0"/><circle cx="202.6" cy="197.7" r="5.0"/><circle cx="189.0" cy="211.7" r="5.0"/><circle cx="186.3" cy="229.4" r="5.0"/><circle cx="143.0" cy="248.4" r="5.0"/><circle cx="169.4" cy="258.7" r="5.0"/><circle cx="145.1" cy="202.6" r="5.0"/><circle cx="154.0" cy="161.0" r="5.0"/><circle cx="156.0" cy="165.0" r="5.0"/><circle cx="150.0" cy="163.0" r="5.0"/><circle cx="147.1" cy="152.7" r="5.0"/><circle cx="162.5" cy="148.3" r="5.0"/><circle cx="147.0" cy="157.0" r="5.0"/><circle cx="162.0" cy="154.0" r="5.0"/><circle cx="145.0" cy="160.0" r="5.0"/><circle cx="160.0" cy="159.0" r="5.0"/><circle cx="212.0" cy="265.0" r="5.0"/><circle cx="214.9" cy="283.9" r="5.0"/></g><g fill="#6ebe44"><circle cx="278.2" cy="244.0" r="5.0"/><circle cx="194.8" cy="222.3" r="5.0"/><circle cx="256.6" cy="205.1" r="5.0"/><circle cx="267.1" cy="230.8" r="5.0"/><circle cx="230.0" cy="257.8" r="5.0"/><circle cx="220.1" cy="202.6" r="5.0"/><circle cx="241.4" cy="198.7" r="5.0"/><circle cx="211.2" cy="190.8" r="5.0"/><circle cx="233.0" cy="233.1" r="5.0"/><circle cx="238.2" cy="210.1" r="5.0"/><circle cx="235.1" cy="223.5" r="5.0"/><circle cx="242.1" cy="231.2" r="5.0"/><circle cx="218.3" cy="245.1" r="5.0"/><circle cx="264.4" cy="246.7" r="5.0"/><circle cx="205.9" cy="244.6" r="5.0"/><circle cx="203.5" cy="212.5" r="5.0"/><circle cx="267.3" cy="210.3" r="5.0"/><circle cx="235.2" cy="199.6" r="5.0"/><circle cx="247.7" cy="204.3" r="5.0"/><circle cx="274.1" cy="250.7" r="5.0"/><circle cx="254.7" cy="218.9" r="5.0"/><circle cx="205.7" cy="219.9" r="5.0"/><circle cx="259.3" cy="243.1" r="5.0"/><circle cx="260.8" cy="212.3" r="5.0"/><circle cx="241.5" cy="247.5" r="5.0"/><circle cx="284.0" cy="245.5" r="5.0"/><circle cx="241.8" cy="241.1" r="5.0"/><circle cx="230.2" cy="223.9" r="5.0"/><circle cx="282.0" cy="231.4" r="5.0"/><circle cx="192.3" cy="228.7" r="5.0"/><circle cx="225.9" cy="238.5" r="5.0"/><circle cx="255.7" cy="249.9" r="5.0"/><circle cx="239.6" cy="236.4" r="5.0"/><circle cx="294.3" cy="250.8" r="5.0"/><circle cx="239.9" cy="252.0" r="5.0"/><circle cx="312.9" cy="239.8" r="5.0"/><circle cx="263.5" cy="227.3" r="5.0"/><circle cx="287.8" cy="242.3" r="5.0"/><circle cx="300.3" cy="231.4" r="5.0"/><circle cx="284.2" cy="218.8" r="5.0"/><circle cx="252.7" cy="236.8" r="5.0"/><circle cx="221.5" cy="239.7" r="5.0"/><circle cx="217.9" cy="188.5" r="5.0"/><circle cx="276.6" cy="232.1" r="5.0"/><circle cx="229.8" cy="217.9" r="5.0"/><circle cx="304.9" cy="236.2" r="5.0"/><circle cx="276.2" cy="213.3" r="5.0"/><circle cx="205.9" cy="230.2" r="5.0"/><circle cx="279.1" cy="255.8" r="5.0"/><circle cx="243.5" cy="219.6" r="5.0"/><circle cx="222.5" cy="208.6" r="5.0"/><circle cx="274.4" cy="206.1" r="5.0"/><circle cx="249.1" cy="210.8" r="5.0"/><circle cx="207.8" cy="234.6" r="5.0"/><circle cx="253.0" cy="208.7" r="5.0"/><circle cx="300.5" cy="250.7" r="5.0"/><circle cx="228.3" cy="197.8" r="5.0"/><circle cx="276.1" cy="223.0" r="5.0"/><circle cx="255.9" cy="214.1" r="5.0"/><circle cx="295.3" cy="232.2" r="5.0"/><circle cx="254.7" cy="257.8" r="5.0"/><circle cx="250.8" cy="231.0" r="5.0"/><circle cx="290.2" cy="235.4" r="5.0"/><circle cx="232.3" cy="251.0" r="5.0"/><circle cx="257.9" cy="228.9" r="5.0"/><circle cx="212.3" cy="231.8" r="5.0"/><circle cx="223.0" cy="250.2" r="5.0"/><circle cx="271.5" cy="244.1" r="5.0"/><circle cx="198.5" cy="240.5" r="5.0"/><circle cx="261.8" cy="257.3" r="5.0"/><circle cx="227.7" cy="229.1" r="5.0"/><circle cx="226.4" cy="244.7" r="5.0"/><circle cx="223.6" cy="214.9" r="5.0"/><circle cx="202.7" cy="238.2" r="5.0"/><circle cx="236.1" cy="248.3" r="5.0"/><circle cx="324.4" cy="239.3" r="5.0"/><circle cx="222.0" cy="194.8" r="5.0"/><circle cx="212.4" cy="198.2" r="5.0"/><circle cx="213.4" cy="208.3" r="5.0"/><circle cx="231.6" cy="238.7" r="5.0"/><circle cx="293.6" cy="242.2" r="5.0"/><circle cx="224.9" cy="189.6" r="5.0"/><circle cx="215.9" cy="225.7" r="5.0"/><circle cx="247.2" cy="227.5" r="5.0"/><circle cx="316.6" cy="237.1" r="5.0"/><circle cx="228.3" cy="249.6" r="5.0"/><circle cx="230.8" cy="190.7" r="5.0"/><circle cx="209.0" cy="213.8" r="5.0"/><circle cx="322.5" cy="248.2" r="5.0"/><circle cx="265.5" cy="262.0" r="5.0"/><circle cx="269.7" cy="213.8" r="5.0"/><circle cx="240.1" cy="205.2" r="5.0"/><circle cx="286.6" cy="253.6" r="5.0"/><circle cx="278.2" cy="248.7" r="5.0"/><circle cx="234.5" cy="215.8" r="5.0"/><circle cx="286.1" cy="226.8" r="5.0"/><circle cx="233.6" cy="206.7" r="5.0"/><circle cx="199.5" cy="230.2" r="5.0"/><circle cx="274.2" cy="236.5" r="5.0"/><circle cx="199.3" cy="223.8" r="5.0"/><circle cx="260.3" cy="261.4" r="5.0"/><circle cx="232.3" cy="194.9" r="5.0"/><circle cx="244.4" cy="208.5" r="5.0"/><circle cx="232.3" cy="212.2" r="5.0"/><circle cx="197.8" cy="218.8" r="5.0"/><circle cx="252.9" cy="222.8" r="5.0"/><circle cx="245.9" cy="246.9" r="5.0"/><circle cx="248.8" cy="254.5" r="5.0"/><circle cx="211.5" cy="247.1" r="5.0"/><circle cx="214.5" cy="221.7" r="5.0"/><circle cx="281.1" cy="215.2" r="5.0"/><circle cx="253.7" cy="243.6" r="5.0"/><circle cx="265.0" cy="216.3" r="5.0"/><circle cx="268.2" cy="251.0" r="5.0"/><circle cx="245.3" cy="235.2" r="5.0"/><circle cx="212.5" cy="202.7" r="5.0"/><circle cx="210.2" cy="224.3" r="5.0"/><circle cx="271.2" cy="257.5" r="5.0"/><circle cx="279.1" cy="236.1" r="5.0"/><circle cx="205.9" cy="225.9" r="5.0"/><circle cx="271.3" cy="225.0" r="5.0"/><circle cx="230.6" cy="244.2" r="5.0"/><circle cx="213.6" cy="240.7" r="5.0"/><circle cx="238.0" cy="232.2" r="5.0"/><circle cx="280.5" cy="224.1" r="5.0"/><circle cx="249.7" cy="218.3" r="5.0"/><circle cx="293.5" cy="225.4" r="5.0"/><circle cx="301.8" cy="246.4" r="5.0"/><circle cx="265.9" cy="223.3" r="5.0"/><circle cx="281.3" cy="203.7" r="5.0"/><circle cx="283.4" cy="237.5" r="5.0"/><circle cx="253.0" cy="200.7" r="5.0"/><circle cx="236.8" cy="239.7" r="5.0"/><circle cx="239.4" cy="225.6" r="5.0"/><circle cx="277.1" cy="217.6" r="5.0"/><circle cx="308.3" cy="244.2" r="5.0"/><circle cx="211.7" cy="186.4" r="5.0"/><circle cx="264.0" cy="251.7" r="5.0"/><circle cx="320.7" cy="241.4" r="5.0"/><circle cx="223.1" cy="234.0" r="5.0"/><circle cx="260.0" cy="224.5" r="5.0"/><circle cx="264.3" cy="206.8" r="5.0"/><circle cx="329.6" cy="242.0" r="5.0"/><circle cx="259.9" cy="202.2" r="5.0"/><circle cx="259.8" cy="247.4" r="5.0"/><circle cx="228.0" cy="211.7" r="5.0"/><circle cx="260.4" cy="218.9" r="5.0"/><circle cx="223.1" cy="228.8" r="5.0"/><circle cx="238.9" cy="194.0" r="5.0"/><circle cx="226.8" cy="193.6" r="5.0"/><circle cx="217.8" cy="198.8" r="5.0"/><circle cx="245.8" cy="257.5" r="5.0"/><circle cx="216.3" cy="248.9" r="5.0"/><circle cx="225.2" cy="201.3" r="5.0"/><circle cx="195.2" cy="236.2" r="5.0"/><circle cx="315.3" cy="247.2" r="5.0"/><circle cx="215.6" cy="236.5" r="5.0"/><circle cx="217.3" cy="210.6" r="5.0"/><circle cx="265.3" cy="201.2" r="5.0"/><circle cx="227.9" cy="205.4" r="5.0"/><circle cx="248.6" cy="250.2" r="5.0"/><circle cx="289.6" cy="230.2" r="5.0"/><circle cx="280.8" cy="210.5" r="5.0"/><circle cx="219.6" cy="253.6" r="5.0"/><circle cx="270.2" cy="218.7" r="5.0"/><circle cx="288.0" cy="247.7" r="5.0"/><circle cx="271.3" cy="232.2" r="5.0"/><circle cx="217.0" cy="194.4" r="5.0"/><circle cx="207.7" cy="209.0" r="5.0"/><circle cx="238.4" cy="244.1" r="5.0"/><circle cx="271.0" cy="202.5" r="5.0"/><circle cx="257.7" cy="198.6" r="5.0"/><circle cx="310.2" cy="248.5" r="5.0"/><circle cx="250.5" cy="261.0" r="5.0"/><circle cx="257.4" cy="253.9" r="5.0"/><circle cx="226.1" cy="255.1" r="5.0"/><circle cx="271.7" cy="209.9" r="5.0"/><circle cx="245.4" cy="213.1" r="5.0"/><circle cx="266.6" cy="257.1" r="5.0"/><circle cx="248.3" cy="242.1" r="5.0"/><circle cx="233.7" cy="228.4" r="5.0"/><circle cx="274.0" cy="228.6" r="5.0"/><circle cx="240.4" cy="215.6" r="5.0"/><circle cx="217.1" cy="232.4" r="5.0"/><circle cx="306.0" cy="249.1" r="5.0"/><circle cx="208.3" cy="239.7" r="5.0"/><circle cx="210.4" cy="219.2" r="5.0"/><circle cx="309.2" cy="235.7" r="5.0"/><circle cx="245.6" cy="198.1" r="5.0"/><circle cx="282.9" cy="250.0" r="5.0"/><circle cx="234.8" cy="256.9" r="5.0"/><circle cx="190.9" cy="224.4" r="5.0"/><circle cx="256.0" cy="262.0" r="5.0"/><circle cx="287.5" cy="221.6" r="5.0"/><circle cx="199.3" cy="234.5" r="5.0"/><circle cx="327.2" cy="248.3" r="5.0"/><circle cx="231.0" cy="201.8" r="5.0"/><circle cx="274.5" cy="241.1" r="5.0"/><circle cx="240.1" cy="256.4" r="5.0"/><circle cx="248.1" cy="223.0" r="5.0"/><circle cx="217.4" cy="205.9" r="5.0"/><circle cx="324.7" cy="243.9" r="5.0"/><circle cx="238.9" cy="220.8" r="5.0"/><circle cx="316.5" cy="242.2" r="5.0"/><circle cx="244.0" cy="202.3" r="5.0"/><circle cx="202.0" cy="205.3" r="5.0"/><circle cx="203.0" cy="193.9" r="5.0"/><circle cx="190.7" cy="238.3" r="5.0"/><circle cx="192.3" cy="212.0" r="5.0"/><circle cx="241.7" cy="276.5" r="5.0"/><circle cx="190.0" cy="207.2" r="5.0"/><circle cx="176.2" cy="221.9" r="5.0"/><circle cx="183.5" cy="243.8" r="5.0"/><circle cx="241.4" cy="275.8" r="5.0"/><circle cx="245.3" cy="184.4" r="5.0"/><circle cx="297.2" cy="252.4" r="5.0"/><circle cx="324.9" cy="252.4" r="5.0"/><circle cx="243.5" cy="183.0" r="5.0"/></g><g fill="#6cc7b2"><circle cx="339.9" cy="245.9" r="5.0"/><circle cx="338.0" cy="286.8" r="5.0"/><circle cx="325.1" cy="287.6" r="5.0"/><circle cx="311.8" cy="290.2" r="5.0"/><circle cx="372.4" cy="258.4" r="5.0"/><circle cx="347.0" cy="280.4" r="5.0"/><circle cx="382.3" cy="246.3" r="5.0"/><circle cx="387.5" cy="252.0" r="5.0"/><circle cx="382.3" cy="261.0" r="5.0"/><circle cx="359.8" cy="248.4" r="5.0"/><circle cx="323.4" cy="300.9" r="5.0"/><circle cx="355.4" cy="249.4" r="5.0"/><circle cx="291.2" cy="278.8" r="5.0"/><circle cx="303.5" cy="295.4" r="5.0"/><circle cx="319.8" cy="298.6" r="5.0"/><circle cx="325.7" cy="256.4" r="5.0"/><circle cx="364.5" cy="297.4" r="5.0"/><circle cx="334.9" cy="292.6" r="5.0"/><circle cx="381.1" cy="266.8" r="5.0"/><circle cx="338.1" cy="282.3" r="5.0"/><circle cx="374.6" cy="246.3" r="5.0"/><circle cx="292.1" cy="272.8" r="5.0"/><circle cx="335.5" cy="300.5" r="5.0"/><circle cx="309.4" cy="258.2" r="5.0"/><circle cx="311.2" cy="263.4" r="5.0"/><circle cx="325.7" cy="249.6" r="5.0"/><circle cx="382.3" cy="251.0" r="5.0"/><circle cx="328.5" cy="264.5" r="5.0"/><circle cx="290.6" cy="283.4" r="5.0"/><circle cx="388.7" cy="229.6" r="5.0"/><circle cx="356.9" cy="259.1" r="5.0"/><circle cx="340.8" cy="262.9" r="5.0"/><circle cx="286.8" cy="275.2" r="5.0"/><circle cx="367.6" cy="289.4" r="5.0"/><circle cx="312.3" cy="282.9" r="5.0"/><circle cx="400.2" cy="231.4" r="5.0"/><circle cx="389.3" cy="247.4" r="5.0"/><circle cx="397.8" cy="227.1" r="5.0"/><circle cx="360.3" cy="268.4" r="5.0"/><circle cx="348.2" cy="262.5" r="5.0"/><circle cx="285.5" cy="267.1" r="5.0"/><circle cx="279.7" cy="267.6" r="5.0"/><circle cx="307.5" cy="271.4" r="5.0"/><circle cx="379.9" cy="271.1" r="5.0"/><circle cx="326.2" cy="260.6" r="5.0"/><circle cx="370.6" cy="277.4" r="5.0"/><circle cx="350.6" cy="300.1" r="5.0"/><circle cx="371.6" cy="295.3" r="5.0"/><circle cx="365.2" cy="284.3" r="5.0"/><circle cx="380.0" cy="242.0" r="5.0"/><circle cx="354.1" cy="245.4" r="5.0"/><circle cx="293.2" cy="258.9" r="5.0"/><circle cx="326.5" cy="273.2" r="5.0"/><circle cx="350.3" cy="275.9" r="5.0"/><circle cx="301.2" cy="261.3" r="5.0"/><circle cx="354.2" cy="263.3" r="5.0"/><circle cx="394.8" cy="237.2" r="5.0"/><circle cx="324.8" cy="294.6" r="5.0"/><circle cx="358.1" cy="287.5" r="5.0"/><circle cx="344.5" cy="302.7" r="5.0"/><circle cx="344.6" cy="288.1" r="5.0"/><circle cx="340.3" cy="254.4" r="5.0"/><circle cx="354.1" cy="295.6" r="5.0"/><circle cx="361.7" cy="289.9" r="5.0"/><circle cx="359.0" cy="294.9" r="5.0"/><circle cx="351.4" cy="284.7" r="5.0"/><circle cx="396.4" cy="247.0" r="5.0"/><circle cx="365.6" cy="263.9" r="5.0"/><circle cx="333.7" cy="245.4" r="5.0"/><circle cx="347.5" cy="252.9" r="5.0"/><circle cx="335.7" cy="304.9" r="5.0"/><circle cx="374.6" cy="278.7" r="5.0"/><circle cx="372.0" cy="282.1" r="5.0"/><circle cx="392.5" cy="242.3" r="5.0"/><circle cx="372.2" cy="273.2" r="5.0"/><circle cx="304.9" cy="256.0" r="5.0"/><circle cx="332.6" cy="272.4" r="5.0"/><circle cx="357.7" cy="274.4" r="5.0"/><circle cx="311.4" cy="276.8" r="5.0"/><circle cx="332.1" cy="254.9" r="5.0"/><circle cx="317.9" cy="278.9" r="5.0"/><circle cx="344.0" cy="296.0" r="5.0"/><circle cx="296.0" cy="288.7" r="5.0"/><circle cx="380.8" cy="235.6" r="5.0"/><circle cx="319.0" cy="258.9" r="5.0"/><circle cx="357.1" cy="240.3" r="5.0"/><circle cx="323.5" cy="282.9" r="5.0"/><circle cx="316.1" cy="272.8" r="5.0"/><circle cx="352.0" cy="280.0" r="5.0"/><circle cx="298.9" cy="294.0" r="5.0"/><circle cx="339.7" cy="301.1" r="5.0"/><circle cx="338.0" cy="241.4" r="5.0"/><circle cx="286.5" cy="279.8" r="5.0"/><circle cx="318.9" cy="269.0" r="5.0"/><circle cx="343.5" cy="242.1" r="5.0"/><circle cx="317.4" cy="283.8" r="5.0"/><circle cx="329.8" cy="247.9" r="5.0"/><circle cx="355.9" cy="267.4" r="5.0"/><circle cx="360.2" cy="255.7" r="5.0"/><circle cx="308.4" cy="295.9" r="5.0"/><circle cx="289.9" cy="266.4" r="5.0"/><circle cx="372.4" cy="288.6" r="5.0"/><circle cx="319.2" cy="304.6" r="5.0"/><circle cx="306.6" cy="266.4" r="5.0"/><circle cx="367.2" cy="251.1" r="5.0"/><circle cx="353.9" cy="303.1" r="5.0"/><circle cx="345.9" cy="246.9" r="5.0"/><circle cx="403.2" cy="244.6" r="5.0"/><circle cx="393.4" cy="225.9" r="5.0"/><circle cx="378.0" cy="284.0" r="5.0"/><circle cx="388.1" cy="242.0" r="5.0"/><circle cx="329.5" cy="293.6" r="5.0"/><circle cx="331.8" cy="261.1" r="5.0"/><circle cx="294.3" cy="264.9" r="5.0"/><circle cx="315.9" cy="289.1" r="5.0"/><circle cx="341.6" cy="277.0" r="5.0"/><circle cx="388.0" cy="234.3" r="5.0"/><circle cx="379.3" cy="256.6" r="5.0"/><circle cx="315.5" cy="265.4" r="5.0"/><circle cx="301.2" cy="288.1" r="5.0"/><circle cx="386.4" cy="259.3" r="5.0"/><circle cx="315.6" cy="300.9" r="5.0"/><circle cx="405.7" cy="236.3" r="5.0"/><circle cx="304.2" cy="284.2" r="5.0"/><circle cx="307.6" cy="288.6" r="5.0"/><circle cx="298.5" cy="256.5" r="5.0"/><circle cx="334.9" cy="250.8" r="5.0"/><circle cx="381.9" cy="277.4" r="5.0"/><circle cx="365.7" cy="243.8" r="5.0"/><circle cx="362.9" cy="252.1" r="5.0"/><circle cx="296.7" cy="268.8" r="5.0"/><circle cx="333.6" cy="265.2" r="5.0"/><circle cx="375.9" cy="251.2" r="5.0"/><circle cx="315.4" cy="251.2" r="5.0"/><circle cx="339.8" cy="291.6" r="5.0"/><circle cx="376.9" cy="264.2" r="5.0"/><circle cx="328.2" cy="301.6" r="5.0"/><circle cx="284.9" cy="262.8" r="5.0"/><circle cx="281.4" cy="279.3" r="5.0"/><circle cx="353.1" cy="289.7" r="5.0"/><circle cx="289.6" cy="261.2" r="5.0"/><circle cx="298.0" cy="282.4" r="5.0"/><circle cx="369.7" cy="269.0" r="5.0"/><circle cx="313.0" cy="255.9" r="5.0"/><circle cx="278.7" cy="273.5" r="5.0"/><circle cx="338.3" cy="270.6" r="5.0"/><circle cx="374.7" cy="268.6" r="5.0"/><circle cx="384.8" cy="271.7" r="5.0"/><circle cx="372.5" cy="264.5" r="5.0"/><circle cx="314.6" cy="295.7" r="5.0"/><circle cx="298.5" cy="264.9" r="5.0"/><circle cx="399.0" cy="238.4" r="5.0"/><circle cx="390.5" cy="255.2" r="5.0"/><circle cx="360.9" cy="299.7" r="5.0"/><circle cx="323.0" cy="267.7" r="5.0"/><circle cx="364.5" cy="259.4" r="5.0"/><circle cx="371.9" cy="249.6" r="5.0"/><circle cx="392.9" cy="250.3" r="5.0"/><circle cx="366.6" cy="272.7" r="5.0"/><circle cx="320.8" cy="287.8" r="5.0"/><circle cx="348.8" cy="292.0" r="5.0"/><circle cx="307.0" cy="280.1" r="5.0"/><circle cx="322.5" cy="253.3" r="5.0"/><circle cx="393.9" cy="231.7" r="5.0"/><circle cx="385.2" cy="265.0" r="5.0"/><circle cx="285.2" cy="284.8" r="5.0"/><circle cx="360.2" cy="263.9" r="5.0"/><circle cx="353.1" cy="256.2" r="5.0"/><circle cx="348.0" cy="242.3" r="5.0"/><circle cx="329.1" cy="269.8" r="5.0"/><circle cx="343.8" cy="257.9" r="5.0"/><circle cx="338.8" cy="258.9" r="5.0"/><circle cx="370.4" cy="243.7" r="5.0"/><circle cx="342.2" cy="249.6" r="5.0"/><circle cx="346.1" cy="274.8" r="5.0"/><circle cx="368.1" cy="255.7" r="5.0"/><circle cx="308.2" cy="253.0" r="5.0"/><circle cx="352.8" cy="240.3" r="5.0"/><circle cx="309.5" cy="301.3" r="5.0"/><circle cx="356.5" cy="299.5" r="5.0"/><circle cx="382.1" cy="231.0" r="5.0"/><circle cx="324.4" cy="278.5" r="5.0"/><circle cx="321.6" cy="273.3" r="5.0"/><circle cx="287.8" cy="270.8" r="5.0"/><circle cx="377.5" cy="288.7" r="5.0"/><circle cx="400.6" cy="249.5" r="5.0"/><circle cx="368.9" cy="260.9" r="5.0"/><circle cx="349.2" cy="257.9" r="5.0"/><circle cx="390.1" cy="238.1" r="5.0"/><circle cx="291.0" cy="289.9" r="5.0"/><circle cx="320.1" cy="292.4" r="5.0"/><circle cx="351.3" cy="250.9" r="5.0"/><circle cx="333.6" cy="288.5" r="5.0"/><circle cx="336.5" cy="277.5" r="5.0"/><circle cx="372.0" cy="254.1" r="5.0"/><circle cx="321.7" cy="263.3" r="5.0"/><circle cx="354.2" cy="271.8" r="5.0"/><circle cx="319.8" cy="249.1" r="5.0"/><circle cx="338.7" cy="296.0" r="5.0"/><circle cx="385.6" cy="238.4" r="5.0"/><circle cx="368.6" cy="298.3" r="5.0"/><circle cx="324.3" cy="305.3" r="5.0"/><circle cx="330.9" cy="305.0" r="5.0"/><circle cx="403.9" cy="229.1" r="5.0"/><circle cx="405.8" cy="240.5" r="5.0"/><circle cx="361.0" cy="242.2" r="5.0"/><circle cx="312.1" cy="271.4" r="5.0"/><circle cx="332.5" cy="297.4" r="5.0"/><circle cx="283.1" cy="272.4" r="5.0"/><circle cx="377.8" cy="214.5" r="5.0"/><circle cx="451.6" cy="182.0" r="5.0"/><circle cx="457.8" cy="187.3" r="5.0"/><circle cx="476.4" cy="203.1" r="5.0"/><circle cx="421.5" cy="212.1" r="5.0"/><circle cx="437.8" cy="212.9" r="5.0"/><circle cx="428.8" cy="219.4" r="5.0"/><circle cx="438.3" cy="223.5" r="5.0"/><circle cx="463.3" cy="217.8" r="5.0"/><circle cx="466.0" cy="227.1" r="5.0"/><circle cx="432.9" cy="231.6" r="5.0"/><circle cx="415.0" cy="233.3" r="5.0"/><circle cx="414.2" cy="237.3" r="5.0"/><circle cx="430.5" cy="241.4" r="5.0"/><circle cx="445.1" cy="243.0" r="5.0"/><circle cx="424.0" cy="251.2" r="5.0"/><circle cx="459.0" cy="252.5" r="5.0"/><circle cx="427.2" cy="259.3" r="5.0"/><circle cx="392.2" cy="222.7" r="5.0"/><circle cx="278.5" cy="323.3" r="5.0"/><circle cx="289.9" cy="334.6" r="5.0"/><circle cx="289.0" cy="345.2" r="5.0"/><circle cx="302.1" cy="328.1" r="5.0"/><circle cx="311.0" cy="336.3" r="5.0"/><circle cx="329.0" cy="333.3" r="5.0"/><circle cx="306.2" cy="320.8" r="5.0"/><circle cx="295.6" cy="311.0" r="5.0"/><circle cx="302.1" cy="300.5" r="5.0"/><circle cx="318.4" cy="315.1" r="5.0"/><circle cx="331.4" cy="318.4" r="5.0"/><circle cx="344.4" cy="316.7" r="5.0"/><circle cx="359.0" cy="307.0" r="5.0"/><circle cx="357.4" cy="323.3" r="5.0"/><circle cx="359.0" cy="331.4" r="5.0"/><circle cx="374.5" cy="333.0" r="5.0"/><circle cx="368.8" cy="346.0" r="5.0"/><circle cx="380.2" cy="346.0" r="5.0"/><circle cx="386.7" cy="344.4" r="5.0"/><circle cx="383.5" cy="313.5" r="5.0"/><circle cx="381.9" cy="298.8" r="5.0"/><circle cx="424.0" cy="252.4" r="5.0"/><circle cx="459.0" cy="252.9" r="5.0"/><circle cx="427.2" cy="262.2" r="5.0"/><circle cx="448.4" cy="266.3" r="5.0"/><circle cx="451.6" cy="268.7" r="5.0"/><circle cx="430.5" cy="274.4" r="5.0"/><circle cx="402.8" cy="274.4" r="5.0"/><circle cx="399.5" cy="277.7" r="5.0"/><circle cx="408.5" cy="276.0" r="5.0"/><circle cx="414.2" cy="280.9" r="5.0"/><circle cx="423.1" cy="285.0" r="5.0"/><circle cx="388.1" cy="287.4" r="5.0"/><circle cx="399.5" cy="288.3" r="5.0"/><circle cx="406.0" cy="291.5" r="5.0"/><circle cx="392.2" cy="298.0" r="5.0"/><circle cx="406.0" cy="298.0" r="5.0"/><circle cx="471.2" cy="292.0" r="5.0"/><circle cx="450.8" cy="299.6" r="5.0"/><circle cx="383.3" cy="305.3" r="5.0"/><circle cx="396.3" cy="311.0" r="5.0"/><circle cx="410.1" cy="312.7" r="5.0"/><circle cx="386.5" cy="315.9" r="5.0"/><circle cx="397.9" cy="319.2" r="5.0"/><circle cx="514.3" cy="313.5" r="5.0"/><circle cx="412.6" cy="335.5" r="5.0"/><circle cx="386.5" cy="345.2" r="5.0"/><circle cx="278.3" cy="323.1" r="5.0"/><circle cx="289.8" cy="334.6" r="5.0"/><circle cx="301.3" cy="327.3" r="5.0"/><circle cx="310.7" cy="335.7" r="5.0"/><circle cx="328.9" cy="333.0" r="5.0"/><circle cx="357.7" cy="331.5" r="5.0"/><circle cx="374.5" cy="332.5" r="5.0"/><circle cx="367.8" cy="348.9" r="5.0"/><circle cx="377.6" cy="346.1" r="5.0"/><circle cx="386.6" cy="345.5" r="5.0"/><circle cx="412.5" cy="335.7" r="5.0"/><circle cx="397.5" cy="320.4" r="5.0"/><circle cx="259.9" cy="369.4" r="5.0"/><circle cx="330.6" cy="370.2" r="5.0"/><circle cx="336.8" cy="362.9" r="5.0"/><circle cx="249.4" cy="267.9" r="5.0"/><circle cx="420.0" cy="212.7" r="5.0"/><circle cx="425.9" cy="219.5" r="5.0"/><circle cx="416.1" cy="235.2" r="5.0"/><circle cx="424.0" cy="252.8" r="5.0"/><circle cx="425.9" cy="262.5" r="5.0"/><circle cx="404.4" cy="274.3" r="5.0"/><circle cx="412.2" cy="280.0" r="5.0"/><circle cx="422.0" cy="284.0" r="5.0"/><circle cx="386.8" cy="288.0" r="5.0"/><circle cx="390.7" cy="297.7" r="5.0"/><circle cx="402.4" cy="293.8" r="5.0"/><circle cx="410.2" cy="313.3" r="5.0"/><circle cx="382.9" cy="305.5" r="5.0"/><circle cx="359.4" cy="307.5" r="5.0"/><circle cx="343.8" cy="315.3" r="5.0"/><circle cx="326.2" cy="315.3" r="5.0"/><circle cx="308.6" cy="315.3" r="5.0"/><circle cx="296.9" cy="305.5" r="5.0"/><circle cx="281.3" cy="295.8" r="5.0"/><circle cx="265.6" cy="272.3" r="5.0"/><circle cx="299.0" cy="299.3" r="5.0"/><circle cx="302.0" cy="308.0" r="5.0"/><circle cx="294.7" cy="312.5" r="5.0"/><circle cx="306.4" cy="319.9" r="5.0"/><circle cx="299.0" cy="325.7" r="5.0"/><circle cx="305.0" cy="328.7" r="5.0"/><circle cx="310.8" cy="336.0" r="5.0"/><circle cx="289.5" cy="334.5" r="5.0"/><circle cx="289.5" cy="345.5" r="5.0"/><circle cx="280.0" cy="322.8" r="5.0"/><circle cx="315.2" cy="311.0" r="5.0"/><circle cx="318.0" cy="317.0" r="5.0"/><circle cx="328.4" cy="318.4" r="5.0"/><circle cx="332.8" cy="321.3" r="5.0"/><circle cx="343.0" cy="317.0" r="5.0"/><circle cx="328.4" cy="333.0" r="5.0"/><circle cx="359.2" cy="306.0" r="5.0"/><circle cx="357.7" cy="317.0" r="5.0"/><circle cx="356.2" cy="322.8" r="5.0"/><circle cx="359.2" cy="331.6" r="5.0"/><circle cx="373.8" cy="333.0" r="5.0"/><circle cx="368.0" cy="348.4" r="5.0"/><circle cx="377.5" cy="346.2" r="5.0"/><circle cx="386.3" cy="345.5" r="5.0"/><circle cx="381.2" cy="305.2" r="5.0"/><circle cx="385.6" cy="315.5" r="5.0"/><circle cx="388.5" cy="287.6" r="5.0"/><circle cx="392.9" cy="297.9" r="5.0"/><circle cx="397.3" cy="311.0" r="5.0"/><circle cx="398.8" cy="318.4" r="5.0"/><circle cx="410.5" cy="312.5" r="5.0"/><circle cx="412.7" cy="335.3" r="5.0"/><circle cx="401.7" cy="289.0" r="5.0"/><circle cx="406.0" cy="296.4" r="5.0"/><circle cx="401.7" cy="275.9" r="5.0"/><circle cx="413.4" cy="280.3" r="5.0"/><circle cx="423.0" cy="284.7" r="5.0"/><circle cx="428.0" cy="274.4" r="5.0"/><circle cx="279.5" cy="296.7" r="5.0"/><circle cx="278.2" cy="322.8" r="5.0"/><circle cx="245.6" cy="268.0" r="5.0"/><circle cx="265.0" cy="272.0" r="5.0"/></g><line x1="72.0" y1="43.4" x2="514.3" y2="43.4" stroke="#231f20" stroke-width="1.50"/><line x1="72.0" y1="43.4" x2="72.0" y2="358.7" stroke="#231f20" stroke-width="1.50"/><line x1="72.0" y1="358.7" x2="514.3" y2="358.7" stroke="#231f20" stroke-width="1.50"/><line x1="514.3" y1="43.4" x2="514.3" y2="358.7" stroke="#231f20" stroke-width="1.50"/><line x1="136.0" y1="89.6" x2="578.5" y2="89.6" stroke="#231f20" stroke-width="1.50"/><line x1="136.0" y1="89.6" x2="136.0" y2="405.5" stroke="#231f20" stroke-width="1.50"/><line x1="136.0" y1="405.5" x2="578.5" y2="405.5" stroke="#231f20" stroke-width="1.50"/><line x1="578.5" y1="89.6" x2="578.5" y2="405.5" stroke="#231f20" stroke-width="1.50"/><line x1="72.0" y1="43.4" x2="136.0" y2="89.6" stroke="#231f20" stroke-width="1.50"/><line x1="514.3" y1="43.4" x2="578.5" y2="89.6" stroke="#231f20" stroke-width="1.50"/><line x1="72.0" y1="358.7" x2="136.0" y2="405.5" stroke="#231f20" stroke-width="1.50"/><line x1="514.3" y1="358.7" x2="578.5" y2="405.5" stroke="#231f20" stroke-width="1.50"/><line x1="136.0" y1="402.3" x2="136.0" y2="408.6" stroke="#231f20" stroke-width="1.50"/><line x1="209.8" y1="402.3" x2="209.8" y2="408.6" stroke="#231f20" stroke-width="1.50"/><line x1="283.5" y1="402.3" x2="283.5" y2="408.6" stroke="#231f20" stroke-width="1.50"/><line x1="357.2" y1="402.3" x2="357.2" y2="408.6" stroke="#231f20" stroke-width="1.50"/><line x1="431.0" y1="402.3" x2="431.0" y2="408.6" stroke="#231f20" stroke-width="1.50"/><line x1="504.8" y1="402.3" x2="504.8" y2="408.6" stroke="#231f20" stroke-width="1.50"/><line x1="578.5" y1="402.3" x2="578.5" y2="408.6" stroke="#231f20" stroke-width="1.50"/><line x1="573.8" y1="89.5" x2="583.2" y2="89.5" stroke="#231f20" stroke-width="1.50"/><line x1="573.8" y1="142.2" x2="583.2" y2="142.2" stroke="#231f20" stroke-width="1.50"/><line x1="573.8" y1="194.8" x2="583.2" y2="194.8" stroke="#231f20" stroke-width="1.50"/><line x1="573.8" y1="247.5" x2="583.2" y2="247.5" stroke="#231f20" stroke-width="1.50"/><line x1="573.8" y1="300.2" x2="583.2" y2="300.2" stroke="#231f20" stroke-width="1.50"/><line x1="573.8" y1="352.9" x2="583.2" y2="352.9" stroke="#231f20" stroke-width="1.50"/><line x1="573.8" y1="405.5" x2="583.2" y2="405.5" stroke="#231f20" stroke-width="1.50"/><line x1="66.0" y1="358.7" x2="75.0" y2="358.7" stroke="#231f20" stroke-width="1.50"/><line x1="78.9" y1="368.1" x2="87.9" y2="368.1" stroke="#231f20" stroke-width="1.50"/><line x1="91.7" y1="377.4" x2="100.7" y2="377.4" stroke="#231f20" stroke-width="1.50"/><line x1="104.6" y1="386.8" x2="113.6" y2="386.8" stroke="#231f20" stroke-width="1.50"/><line x1="117.4" y1="396.1" x2="126.4" y2="396.1" stroke="#231f20" stroke-width="1.50"/><line x1="130.3" y1="405.5" x2="139.3" y2="405.5" stroke="#231f20" stroke-width="1.50"/><path d="M840.8 41.5L971.5 41.5M840.8 41.5L840.8 299.3M808.1 299.3L874.0 299.3M808.1 299.3L808.1 361.2M797.6 361.2L819.1 361.2M797.6 361.2L797.6 405.1M791.1 405.1L805.2 405.1M791.1 405.1L791.1 422.2M788.3 422.2L793.7 422.2M788.3 422.2L788.3 428.7M793.7 422.2L793.7 430.9M787.0 428.7L789.6 428.7M787.0 428.7L787.0 431.6M789.6 428.7L789.6 431.8M787.0 431.6L787.0 434.4M789.6 431.8L789.6 434.4M791.9 430.9L794.7 430.9M791.9 430.9L791.9 432.7M794.7 430.9L794.7 432.9M791.9 432.7L791.9 434.4M794.7 432.9L794.7 434.4M805.2 405.1L805.2 406.7M802.8 406.7L809.3 406.7M802.8 406.7L802.8 418.0M801.5 418.0L804.8 418.0M801.5 418.0L801.5 422.9M804.8 418.0L804.8 424.6M800.2 422.9L802.2 422.9M800.2 422.9L800.2 430.4M802.2 422.9L802.2 429.8M800.2 430.4L800.2 434.4M801.3 429.8L802.6 429.8M801.3 429.8L801.3 433.2M802.6 429.8L802.6 433.2M801.3 433.2L801.3 434.4M802.6 433.2L802.6 434.4M804.2 424.6L805.5 424.6M804.2 424.6L804.2 430.1M805.5 424.6L805.5 427.8M804.2 430.1L804.2 434.4M805.5 427.8L805.5 434.4M809.3 406.7L809.3 420.0M807.1 420.0L810.6 420.0M807.1 420.0L807.1 427.4M810.6 420.0L810.6 424.0M807.1 427.4L807.1 434.4M809.1 424.0L811.5 424.0M809.1 424.0L809.1 427.9M811.5 424.0L811.5 426.8M809.1 427.9L809.1 434.4M810.7 426.8L812.2 426.8M810.7 426.8L810.7 430.4M812.2 426.8L812.2 431.9M810.7 430.4L810.7 434.4M812.2 431.9L812.2 434.4M819.1 361.2L819.1 404.8M814.2 404.8L823.1 404.8M814.2 404.8L814.2 417.0M813.8 417.0L815.3 417.0M813.8 417.0L813.8 426.9M815.3 417.0L815.3 425.7M813.8 426.9L813.8 434.4M815.3 425.7L815.3 434.4M823.1 404.8L823.1 416.2M818.3 416.2L832.1 416.2M818.3 416.2L818.3 421.0M815.8 421.0L820.8 421.0M815.8 421.0L815.8 427.4M820.8 421.0L820.8 426.2M815.0 427.4L817.8 427.4M815.0 427.4L815.0 432.6M817.8 427.4L817.8 432.1M815.0 432.6L815.0 434.4M817.8 432.1L817.8 434.4M819.9 426.2L822.1 426.2M819.9 426.2L819.9 429.6M822.1 426.2L822.1 429.2M819.2 429.6L820.4 429.6M819.2 429.6L819.2 430.9M820.4 429.6L820.4 432.6M819.2 430.9L819.2 434.4M820.4 432.6L820.4 434.4M822.1 429.2L822.1 434.4M832.1 416.2L832.1 421.0M826.9 421.0L835.4 421.0M826.9 421.0L826.9 430.0M835.4 421.0L835.4 426.9M825.7 430.0L829.6 430.0M825.7 430.0L825.7 433.0M829.6 430.0L829.6 431.1M825.7 433.0L825.7 434.4M829.6 431.1L829.6 434.4M832.6 426.9L837.2 426.9M832.6 426.9L832.6 432.2M837.2 426.9L837.2 430.6M832.6 432.2L832.6 434.4M836.3 430.6L839.1 430.6M836.3 430.6L836.3 432.3M839.1 430.6L839.1 431.7M836.3 432.3L836.3 434.4M839.1 431.7L839.1 434.4M874.0 299.3L874.0 346.5M852.8 346.5L894.8 346.5M852.8 346.5L852.8 388.8M841.9 388.8L863.3 388.8M841.9 388.8L841.9 415.7M837.8 415.7L846.7 415.7M837.8 415.7L837.8 420.0M835.5 420.0L840.0 420.0M835.5 420.0L835.5 429.2M840.0 420.0L840.0 425.5M833.8 429.2L836.3 429.2M833.8 429.2L833.8 431.4M836.3 429.2L836.3 433.0M833.8 431.4L833.8 434.4M836.3 433.0L836.3 434.4M839.2 425.5L841.2 425.5M839.2 425.5L839.2 428.3M841.2 425.5L841.2 428.8M838.4 428.3L839.6 428.3M838.4 428.3L838.4 430.0M839.6 428.3L839.6 432.2M838.4 430.0L838.4 434.4M839.6 432.2L839.6 434.4M841.2 428.8L841.2 434.4M846.7 415.7L846.7 421.0M843.9 421.0L848.9 421.0M843.9 421.0L843.9 428.1M848.9 421.0L848.9 427.3M842.7 428.1L844.6 428.1M842.7 428.1L842.7 432.0M844.6 428.1L844.6 430.1M842.7 432.0L842.7 434.4M844.0 430.1L845.2 430.1M844.0 430.1L844.0 431.4M845.2 430.1L845.2 432.1M844.0 431.4L844.0 434.4M845.2 432.1L845.2 434.4M846.9 427.3L850.1 427.3M846.9 427.3L846.9 430.1M850.1 427.3L850.1 432.5M846.5 430.1L847.7 430.1M846.5 430.1L846.5 431.8M847.7 430.1L847.7 433.1M846.5 431.8L846.5 434.4M847.7 433.1L847.7 434.4M850.1 432.5L850.1 434.4M863.3 388.8L863.3 402.3M857.6 402.3L868.7 402.3M857.6 402.3L857.6 418.0M853.9 418.0L858.9 418.0M853.9 418.0L853.9 425.3M858.9 418.0L858.9 429.1M853.1 425.3L855.0 425.3M853.1 425.3L853.1 428.1M855.0 425.3L855.0 432.1M853.1 428.1L853.1 434.4M855.0 432.1L855.0 434.4M857.0 429.1L860.1 429.1M857.0 429.1L857.0 431.1M860.1 429.1L860.1 432.5M857.0 431.1L857.0 434.4M860.1 432.5L860.1 434.4M868.7 402.3L868.7 412.0M864.6 412.0L870.6 412.0M864.6 412.0L864.6 420.9M870.6 412.0L870.6 418.4M862.9 420.9L865.5 420.9M862.9 420.9L862.9 428.2M865.5 420.9L865.5 425.9M862.9 428.2L862.9 434.4M864.7 425.9L866.4 425.9M864.7 425.9L864.7 429.6M866.4 425.9L866.4 430.0M864.7 429.6L864.7 434.4M866.4 430.0L866.4 434.4M869.5 418.4L872.9 418.4M869.5 418.4L869.5 426.3M872.9 418.4L872.9 427.0M868.7 426.3L871.0 426.3M868.7 426.3L868.7 429.1M871.0 426.3L871.0 428.9M868.2 429.1L869.7 429.1M868.2 429.1L868.2 432.6M869.7 429.1L869.7 431.1M868.2 432.6L868.2 434.4M869.7 431.1L869.7 434.4M871.0 428.9L871.0 434.4M872.9 427.0L872.9 434.4M894.8 346.5L894.8 378.3M883.7 378.3L905.3 378.3M883.7 378.3L883.7 410.3M878.2 410.3L888.7 410.3M878.2 410.3L878.2 420.0M875.7 420.0L880.2 420.0M875.7 420.0L875.7 428.9M880.2 420.0L880.2 430.4M874.6 428.9L876.3 428.9M874.6 428.9L874.6 432.9M876.3 428.9L876.3 432.7M874.6 432.9L874.6 434.4M876.3 432.7L876.3 434.4M878.9 430.4L881.7 430.4M878.9 430.4L878.9 432.2M881.7 430.4L881.7 431.6M878.9 432.2L878.9 434.4M881.7 431.6L881.7 434.4M888.7 410.3L888.7 419.0M884.6 419.0L889.6 419.0M884.6 419.0L884.6 430.3M889.6 419.0L889.6 424.7M883.9 430.3L885.5 430.3M883.9 430.3L883.9 431.8M885.5 430.3L885.5 433.0M883.9 431.8L883.9 434.4M885.5 433.0L885.5 434.4M888.0 424.7L891.4 424.7M888.0 424.7L888.0 428.5M891.4 424.7L891.4 428.0M887.2 428.5L889.1 428.5M887.2 428.5L887.2 430.2M889.1 428.5L889.1 430.7M887.2 430.2L887.2 434.4M889.1 430.7L889.1 434.4M890.7 428.0L892.2 428.0M890.7 428.0L890.7 432.3M892.2 428.0L892.2 431.6M890.7 432.3L890.7 434.4M892.2 431.6L892.2 434.4M905.3 378.3L905.3 405.4M898.0 405.4L911.9 405.4M898.0 405.4L898.0 419.0M895.1 419.0L900.1 419.0M895.1 419.0L895.1 429.9M900.1 419.0L900.1 424.4M893.6 429.9L895.7 429.9M893.6 429.9L893.6 431.6M895.7 429.9L895.7 432.0M893.6 431.6L893.6 434.4M895.7 432.0L895.7 434.4M898.1 424.4L901.0 424.4M898.1 424.4L898.1 427.8M901.0 424.4L901.0 428.8M898.1 427.8L898.1 434.4M900.1 428.8L902.1 428.8M900.1 428.8L900.1 430.5M902.1 428.8L902.1 431.2M900.1 430.5L900.1 434.4M902.1 431.2L902.1 434.4M911.9 405.4L911.9 413.6M908.6 413.6L914.8 413.6M908.6 413.6L908.6 421.0M905.6 421.0L909.6 421.0M905.6 421.0L905.6 430.9M909.6 421.0L909.6 428.8M904.5 430.9L907.1 430.9M904.5 430.9L904.5 432.8M907.1 430.9L907.1 432.0M904.5 432.8L904.5 434.4M907.1 432.0L907.1 434.4M908.7 428.8L910.1 428.8M908.7 428.8L908.7 430.2M910.1 428.8L910.1 432.7M908.7 430.2L908.7 434.4M910.1 432.7L910.1 434.4M914.8 413.6L914.8 420.0M912.8 420.0L915.9 420.0M912.8 420.0L912.8 430.5M915.9 420.0L915.9 423.8M912.0 430.5L913.8 430.5M912.0 430.5L912.0 432.4M913.8 430.5L913.8 432.9M912.0 432.4L912.0 434.4M913.8 432.9L913.8 434.4M915.2 423.8L916.5 423.8M915.2 423.8L915.2 431.7M916.5 423.8L916.5 426.8M915.2 431.7L915.2 434.4M916.5 426.8L916.5 434.4" stroke="#fec92e" stroke-width="2.8" fill="none" stroke-linecap="round" stroke-linejoin="round"/><path d="M937.5 245.2L985.4 245.2M937.5 245.2L937.5 364.6M924.9 364.6L950.8 364.6M924.9 364.6L924.9 411.3M919.5 411.3L929.3 411.3M919.5 411.3L919.5 421.0M918.4 421.0L920.8 421.0M918.4 421.0L918.4 429.3M920.8 421.0L920.8 430.4M917.9 429.3L919.2 429.3M917.9 429.3L917.9 432.4M919.2 429.3L919.2 432.6M917.9 432.4L917.9 434.4M919.2 432.6L919.2 434.4M920.5 430.4L921.6 430.4M920.5 430.4L920.5 432.1M921.6 430.4L921.6 432.8M920.5 432.1L920.5 434.4M921.6 432.8L921.6 434.4M929.3 411.3L929.3 413.7M927.8 413.7L933.2 413.7M927.8 413.7L927.8 420.0M924.6 420.0L928.6 420.0M924.6 420.0L924.6 429.9M928.6 420.0L928.6 426.6M923.6 429.9L926.3 429.9M923.6 429.9L923.6 433.0M926.3 429.9L926.3 432.3M923.6 433.0L923.6 434.4M926.3 432.3L926.3 434.4M928.0 426.6L929.4 426.6M928.0 426.6L928.0 430.0M929.4 426.6L929.4 430.8M928.0 430.0L928.0 434.4M929.4 430.8L929.4 434.4M933.2 413.7L933.2 421.0M931.9 421.0L935.4 421.0M931.9 421.0L931.9 424.9M935.4 421.0L935.4 428.6M931.3 424.9L933.2 424.9M931.3 424.9L931.3 431.5M933.2 424.9L933.2 430.7M931.3 431.5L931.3 434.4M933.2 430.7L933.2 434.4M934.5 428.6L936.1 428.6M934.5 428.6L934.5 432.2M936.1 428.6L936.1 431.8M934.5 432.2L934.5 434.4M936.1 431.8L936.1 434.4M950.8 364.6L950.8 389.3M941.5 389.3L959.1 389.3M941.5 389.3L941.5 410.3M938.1 410.3L945.4 410.3M938.1 410.3L938.1 421.0M938.0 421.0L940.0 421.0M938.0 421.0L938.0 430.0M940.0 421.0L940.0 424.9M938.0 430.0L938.0 434.4M940.0 424.9L940.0 434.4M945.4 410.3L945.4 418.0M943.7 418.0L948.2 418.0M943.7 418.0L943.7 422.3M948.2 418.0L948.2 427.0M942.3 422.3L945.0 422.3M942.3 422.3L942.3 426.7M945.0 422.3L945.0 429.6M941.7 426.7L943.0 426.7M941.7 426.7L941.7 431.0M943.0 426.7L943.0 432.2M941.7 431.0L941.7 434.4M943.0 432.2L943.0 434.4M944.2 429.6L945.6 429.6M944.2 429.6L944.2 430.8M945.6 429.6L945.6 431.5M944.2 430.8L944.2 434.4M945.6 431.5L945.6 434.4M947.4 427.0L949.2 427.0M947.4 427.0L947.4 429.6M949.2 427.0L949.2 429.5M947.4 429.6L947.4 434.4M949.2 429.5L949.2 434.4M959.1 389.3L959.1 398.1M954.2 398.1L964.9 398.1M954.2 398.1L954.2 422.0M952.6 422.0L956.6 422.0M952.6 422.0L952.6 429.2M956.6 422.0L956.6 427.8M951.7 429.2L954.4 429.2M951.7 429.2L951.7 431.3M954.4 429.2L954.4 432.2M951.7 431.3L951.7 434.4M954.4 432.2L954.4 434.4M955.8 427.8L957.2 427.8M955.8 427.8L955.8 430.9M957.2 427.8L957.2 432.1M955.8 430.9L955.8 434.4M957.2 432.1L957.2 434.4M964.9 398.1L964.9 411.7M960.1 411.7L969.3 411.7M960.1 411.7L960.1 421.0M959.7 421.0L962.2 421.0M959.7 421.0L959.7 430.2M962.2 421.0L962.2 426.9M958.9 430.2L960.6 430.2M958.9 430.2L958.9 431.9M960.6 430.2L960.6 431.6M958.9 431.9L958.9 434.4M960.6 431.6L960.6 434.4M962.2 426.9L962.2 434.4M969.3 411.7L969.3 417.6M965.9 417.6L972.8 417.6M965.9 417.6L965.9 424.0M964.5 424.0L967.5 424.0M964.5 424.0L964.5 431.0M967.5 424.0L967.5 431.0M963.9 431.0L965.4 431.0M963.9 431.0L963.9 433.5M965.4 431.0L965.4 432.3M963.9 433.5L963.9 434.4M965.4 432.3L965.4 434.4M967.5 431.0L967.5 434.4M972.8 417.6L972.8 423.0M970.0 423.0L972.9 423.0M970.0 423.0L970.0 428.4M972.9 423.0L972.9 427.4M970.0 428.4L970.0 434.4M971.8 427.4L973.6 427.4M971.8 427.4L971.8 430.6M973.6 427.4L973.6 431.3M971.8 430.6L971.8 434.4M973.6 431.3L973.6 434.4" stroke="#ee363b" stroke-width="2.8" fill="none" stroke-linecap="round" stroke-linejoin="round"/><path d="M997.8 255.3L1033.1 255.3M997.8 255.3L997.8 371.9M982.7 371.9L1012.0 371.9M982.7 371.9L982.7 408.4M978.1 408.4L987.9 408.4M978.1 408.4L978.1 420.0M976.5 420.0L980.2 420.0M976.5 420.0L976.5 425.9M980.2 420.0L980.2 429.6M976.0 425.9L977.8 425.9M976.0 425.9L976.0 429.9M977.8 425.9L977.8 428.3M975.1 429.9L976.4 429.9M975.1 429.9L975.1 433.0M976.4 429.9L976.4 431.1M975.1 433.0L975.1 434.4M976.4 431.1L976.4 434.4M977.8 428.3L977.8 434.4M979.4 429.6L981.2 429.6M979.4 429.6L979.4 432.2M981.2 429.6L981.2 431.6M979.4 432.2L979.4 434.4M981.2 431.6L981.2 434.4M987.9 408.4L987.9 418.0M985.1 418.0L990.1 418.0M985.1 418.0L985.1 422.3M990.1 418.0L990.1 423.2M983.5 422.3L986.6 422.3M983.5 422.3L983.5 425.4M986.6 422.3L986.6 430.3M982.6 425.4L984.1 425.4M982.6 425.4L982.6 428.3M984.1 425.4L984.1 427.9M982.6 428.3L982.6 434.4M984.1 427.9L984.1 434.4M985.9 430.3L987.4 430.3M985.9 430.3L985.9 432.3M987.4 430.3L987.4 432.6M985.9 432.3L985.9 434.4M987.4 432.6L987.4 434.4M989.2 423.2L991.2 423.2M989.2 423.2L989.2 430.5M991.2 423.2L991.2 431.4M989.2 430.5L989.2 434.4M991.2 431.4L991.2 434.4M1012.0 371.9L1012.0 394.6M1003.4 394.6L1018.9 394.6M1003.4 394.6L1003.4 411.7M998.5 411.7L1009.1 411.7M998.5 411.7L998.5 420.0M995.4 420.0L1001.4 420.0M995.4 420.0L995.4 425.0M1001.4 420.0L1001.4 427.0M993.3 425.0L996.7 425.0M993.3 425.0L993.3 427.4M996.7 425.0L996.7 429.6M992.7 427.4L994.0 427.4M992.7 427.4L992.7 429.8M994.0 427.4L994.0 430.1M992.7 429.8L992.7 434.4M994.0 430.1L994.0 434.4M995.5 429.6L997.7 429.6M995.5 429.6L995.5 432.5M997.7 429.6L997.7 432.0M995.5 432.5L995.5 434.4M997.7 432.0L997.7 434.4M1000.3 427.0L1002.8 427.0M1000.3 427.0L1000.3 431.7M1002.8 427.0L1002.8 430.3M1000.3 431.7L1000.3 434.4M1002.4 430.3L1003.6 430.3M1002.4 430.3L1002.4 433.2M1003.6 430.3L1003.6 431.5M1002.4 433.2L1002.4 434.4M1003.6 431.5L1003.6 434.4M1009.1 411.7L1009.1 418.0M1007.0 418.0L1011.5 418.0M1007.0 418.0L1007.0 428.0M1011.5 418.0L1011.5 423.2M1005.5 428.0L1008.5 428.0M1005.5 428.0L1005.5 431.6M1008.5 428.0L1008.5 432.5M1005.5 431.6L1005.5 434.4M1008.5 432.5L1008.5 434.4M1010.7 423.2L1012.2 423.2M1010.7 423.2L1010.7 429.2M1012.2 423.2L1012.2 430.9M1010.7 429.2L1010.7 434.4M1012.2 430.9L1012.2 434.4M1018.9 394.6L1018.9 403.5M1017.2 403.5L1022.5 403.5M1017.2 403.5L1017.2 421.0M1015.2 421.0L1018.7 421.0M1015.2 421.0L1015.2 430.7M1018.7 421.0L1018.7 427.5M1014.2 430.7L1016.4 430.7M1014.2 430.7L1014.2 432.0M1016.4 430.7L1016.4 433.0M1014.2 432.0L1014.2 434.4M1016.4 433.0L1016.4 434.4M1018.2 427.5L1019.5 427.5M1018.2 427.5L1018.2 431.4M1019.5 427.5L1019.5 431.7M1018.2 431.4L1018.2 434.4M1019.5 431.7L1019.5 434.4M1022.5 403.5L1022.5 415.0M1021.2 415.0L1024.3 415.0M1021.2 415.0L1021.2 428.6M1024.3 415.0L1024.3 429.4M1020.8 428.6L1022.0 428.6M1020.8 428.6L1020.8 431.6M1022.0 428.6L1022.0 432.3M1020.8 431.6L1020.8 434.4M1022.0 432.3L1022.0 434.4M1023.2 429.4L1025.1 429.4M1023.2 429.4L1023.2 432.9M1025.1 429.4L1025.1 432.8M1023.2 432.9L1023.2 434.4M1025.1 432.8L1025.1 434.4" stroke="#6ebe44" stroke-width="2.8" fill="none" stroke-linecap="round" stroke-linejoin="round"/><path d="M1033.1 255.3L1069.4 255.3M1069.4 255.3L1069.4 304.1M1042.5 304.1L1095.4 304.1M1042.5 304.1L1042.5 372.6M1032.7 372.6L1052.3 372.6M1032.7 372.6L1032.7 402.7M1028.6 402.7L1036.8 402.7M1028.6 402.7L1028.6 418.0M1027.5 418.0L1030.4 418.0M1027.5 418.0L1027.5 422.8M1030.4 418.0L1030.4 425.7M1026.9 422.8L1028.1 422.8M1026.9 422.8L1026.9 430.1M1028.1 422.8L1028.1 428.5M1026.9 430.1L1026.9 434.4M1028.1 428.5L1028.1 434.4M1029.3 425.7L1030.9 425.7M1029.3 425.7L1029.3 431.4M1030.9 425.7L1030.9 428.2M1029.3 431.4L1029.3 434.4M1030.5 428.2L1031.6 428.2M1030.5 428.2L1030.5 430.3M1031.6 428.2L1031.6 430.8M1030.5 430.3L1030.5 434.4M1031.6 430.8L1031.6 434.4M1036.8 402.7L1036.8 410.0M1034.5 410.0L1038.5 410.0M1034.5 410.0L1034.5 417.8M1038.5 410.0L1038.5 417.9M1033.2 417.8L1035.7 417.8M1033.2 417.8L1033.2 428.0M1035.7 417.8L1035.7 428.9M1032.7 428.0L1034.0 428.0M1032.7 428.0L1032.7 432.6M1034.0 428.0L1034.0 431.2M1032.7 432.6L1032.7 434.4M1034.0 431.2L1034.0 434.4M1035.3 428.9L1036.5 428.9M1035.3 428.9L1035.3 430.5M1036.5 428.9L1036.5 430.9M1035.3 430.5L1035.3 434.4M1036.5 430.9L1036.5 434.4M1037.7 417.9L1039.2 417.9M1037.7 417.9L1037.7 424.4M1039.2 417.9L1039.2 428.0M1037.7 424.4L1037.7 434.4M1039.2 428.0L1039.2 434.4M1052.3 372.6L1052.3 389.7M1048.2 389.7L1056.3 389.7M1048.2 389.7L1048.2 420.0M1042.8 420.0L1047.8 420.0M1042.8 420.0L1042.8 427.4M1047.8 420.0L1047.8 429.7M1041.5 427.4L1044.2 427.4M1041.5 427.4L1041.5 430.2M1044.2 427.4L1044.2 430.5M1040.9 430.2L1042.4 430.2M1040.9 430.2L1040.9 433.1M1042.4 430.2L1042.4 431.7M1040.9 433.1L1040.9 434.4M1042.4 431.7L1042.4 434.4M1043.8 430.5L1045.1 430.5M1043.8 430.5L1043.8 433.4M1045.1 430.5L1045.1 432.5M1043.8 433.4L1043.8 434.4M1045.1 432.5L1045.1 434.4M1046.7 429.7L1049.0 429.7M1046.7 429.7L1046.7 431.3M1049.0 429.7L1049.0 432.1M1046.7 431.3L1046.7 434.4M1049.0 432.1L1049.0 434.4M1056.3 389.7L1056.3 411.0M1053.0 411.0L1059.0 411.0M1053.0 411.0L1053.0 423.9M1059.0 411.0L1059.0 417.2M1052.1 423.9L1055.1 423.9M1052.1 423.9L1052.1 429.2M1055.1 423.9L1055.1 428.6M1051.3 429.2L1053.4 429.2M1051.3 429.2L1051.3 432.0M1053.4 429.2L1053.4 431.8M1051.3 432.0L1051.3 434.4M1053.4 431.8L1053.4 434.4M1055.1 428.6L1055.1 434.4M1057.7 417.2L1060.7 417.2M1057.7 417.2L1057.7 422.0M1060.7 417.2L1060.7 426.1M1056.8 422.0L1058.5 422.0M1056.8 422.0L1056.8 431.0M1058.5 422.0L1058.5 430.8M1056.8 431.0L1056.8 434.4M1058.5 430.8L1058.5 434.4M1060.0 426.1L1061.2 426.1M1060.0 426.1L1060.0 430.1M1061.2 426.1L1061.2 428.7M1060.0 430.1L1060.0 434.4M1061.2 428.7L1061.2 434.4M1095.4 304.1L1095.4 360.4M1077.2 360.4L1114.2 360.4M1077.2 360.4L1077.2 402.7M1069.4 402.7L1084.8 402.7M1069.4 402.7L1069.4 418.0M1064.8 418.0L1070.8 418.0M1064.8 418.0L1064.8 428.8M1070.8 418.0L1070.8 429.5M1063.4 428.8L1066.2 428.8M1063.4 428.8L1063.4 431.1M1066.2 428.8L1066.2 430.7M1063.4 431.1L1063.4 434.4M1065.6 430.7L1067.0 430.7M1065.6 430.7L1065.6 433.3M1067.0 430.7L1067.0 431.9M1065.6 433.3L1065.6 434.4M1067.0 431.9L1067.0 434.4M1069.6 429.5L1072.8 429.5M1069.6 429.5L1069.6 430.8M1072.8 429.5L1072.8 431.2M1068.4 430.8L1070.4 430.8M1068.4 430.8L1068.4 432.9M1070.4 430.8L1070.4 432.3M1068.4 432.9L1068.4 434.4M1070.4 432.3L1070.4 434.4M1072.8 431.2L1072.8 434.4M1084.8 402.7L1084.8 410.0M1077.3 410.0L1084.8 410.0M1077.3 410.0L1077.3 423.7M1084.8 410.0L1084.8 417.4M1076.0 423.7L1079.3 423.7M1076.0 423.7L1076.0 427.0M1079.3 423.7L1079.3 429.1M1074.8 427.0L1076.8 427.0M1074.8 427.0L1074.8 429.6M1076.8 427.0L1076.8 430.8M1074.8 429.6L1074.8 434.4M1076.1 430.8L1077.3 430.8M1076.1 430.8L1076.1 432.4M1077.3 430.8L1077.3 432.5M1076.1 432.4L1076.1 434.4M1077.3 432.5L1077.3 434.4M1078.6 429.1L1080.0 429.1M1078.6 429.1L1078.6 430.8M1080.0 429.1L1080.0 431.0M1078.6 430.8L1078.6 434.4M1080.0 431.0L1080.0 434.4M1082.9 417.4L1087.1 417.4M1082.9 417.4L1082.9 427.1M1087.1 417.4L1087.1 426.1M1082.1 427.1L1084.4 427.1M1082.1 427.1L1082.1 431.1M1084.4 427.1L1084.4 432.0M1082.1 431.1L1082.1 434.4M1084.4 432.0L1084.4 434.4M1086.0 426.1L1087.9 426.1M1086.0 426.1L1086.0 431.3M1087.9 426.1L1087.9 431.6M1086.0 431.3L1086.0 434.4M1087.9 431.6L1087.9 434.4M1114.2 360.4L1114.2 380.7M1101.6 380.7L1127.2 380.7M1101.6 380.7L1101.6 401.6M1096.2 401.6L1106.0 401.6M1096.2 401.6L1096.2 412.0M1092.6 412.0L1098.1 412.0M1092.6 412.0L1092.6 421.1M1098.1 412.0L1098.1 421.1M1091.4 421.1L1095.1 421.1M1091.4 421.1L1091.4 425.9M1095.1 421.1L1095.1 431.1M1090.6 425.9L1093.0 425.9M1090.6 425.9L1090.6 428.6M1093.0 425.9L1093.0 429.0M1089.9 428.6L1091.5 428.6M1089.9 428.6L1089.9 430.8M1091.5 428.6L1091.5 430.3M1089.9 430.8L1089.9 434.4M1091.5 430.3L1091.5 434.4M1093.0 429.0L1093.0 434.4M1095.1 431.1L1095.1 434.4M1097.5 421.1L1099.3 421.1M1097.5 421.1L1097.5 427.2M1099.3 421.1L1099.3 429.7M1096.7 427.2L1097.9 427.2M1096.7 427.2L1096.7 430.5M1097.9 427.2L1097.9 431.5M1096.7 430.5L1096.7 434.4M1097.9 431.5L1097.9 434.4M1099.3 429.7L1099.3 434.4M1106.0 401.6L1106.0 414.0M1101.5 414.0L1106.5 414.0M1101.5 414.0L1101.5 421.1M1106.5 414.0L1106.5 426.1M1101.0 421.1L1102.6 421.1M1101.0 421.1L1101.0 430.9M1102.6 421.1L1102.6 425.2M1101.0 430.9L1101.0 434.4M1102.6 425.2L1102.6 434.4M1104.8 426.1L1108.3 426.1M1104.8 426.1L1104.8 431.3M1108.3 426.1L1108.3 430.2M1104.8 431.3L1104.8 434.4M1107.5 430.2L1109.3 430.2M1107.5 430.2L1107.5 431.7M1109.3 430.2L1109.3 431.4M1107.5 431.7L1107.5 434.4M1109.3 431.4L1109.3 434.4M1127.2 380.7L1127.2 395.4M1118.6 395.4L1135.3 395.4M1118.6 395.4L1118.6 414.0M1112.4 414.0L1119.4 414.0M1112.4 414.0L1112.4 419.5M1119.4 414.0L1119.4 424.7M1111.2 419.5L1113.6 419.5M1111.2 419.5L1111.2 427.5M1113.6 419.5L1113.6 424.3M1110.5 427.5L1111.7 427.5M1110.5 427.5L1110.5 429.9M1111.7 427.5L1111.7 432.1M1110.5 429.9L1110.5 434.4M1111.7 432.1L1111.7 434.4M1113.3 424.3L1114.4 424.3M1113.3 424.3L1113.3 431.5M1114.4 424.3L1114.4 427.3M1113.3 431.5L1113.3 434.4M1114.4 427.3L1114.4 434.4M1116.3 424.7L1120.9 424.7M1116.3 424.7L1116.3 431.7M1120.9 424.7L1120.9 429.4M1116.3 431.7L1116.3 434.4M1119.7 429.4L1122.8 429.4M1119.7 429.4L1119.7 431.5M1122.8 429.4L1122.8 431.8M1119.7 431.5L1119.7 434.4M1122.8 431.8L1122.8 434.4M1135.3 395.4L1135.3 411.7M1131.3 411.7L1140.2 411.7M1131.3 411.7L1131.3 420.0M1127.0 420.0L1133.0 420.0M1127.0 420.0L1127.0 426.7M1133.0 420.0L1133.0 427.9M1124.9 426.7L1128.0 426.7M1124.9 426.7L1124.9 431.3M1128.0 426.7L1128.0 431.9M1124.9 431.3L1124.9 434.4M1128.0 431.9L1128.0 434.4M1131.2 427.9L1134.1 427.9M1131.2 427.9L1131.2 431.0M1134.1 427.9L1134.1 431.9M1131.2 431.0L1131.2 434.4M1134.1 431.9L1134.1 434.4M1140.2 411.7L1140.2 418.0M1137.6 418.0L1141.1 418.0M1137.6 418.0L1137.6 423.7M1141.1 418.0L1141.1 423.5M1136.8 423.7L1138.4 423.7M1136.8 423.7L1136.8 426.5M1138.4 423.7L1138.4 431.2M1136.8 426.5L1136.8 434.4M1138.4 431.2L1138.4 434.4M1140.4 423.5L1142.3 423.5M1140.4 423.5L1140.4 430.0M1142.3 423.5L1142.3 430.9M1139.9 430.0L1141.0 430.0M1139.9 430.0L1139.9 432.0M1141.0 430.0L1141.0 432.4M1139.9 432.0L1139.9 434.4M1141.0 432.4L1141.0 434.4M1142.3 430.9L1142.3 434.4" stroke="#528fce" stroke-width="2.8" fill="none" stroke-linecap="round" stroke-linejoin="round"/><path d="M1171.5 188.0L1218.3 188.0M1171.5 188.0L1171.5 332.7M1154.1 332.7L1188.9 332.7M1154.1 332.7L1154.1 383.5M1148.8 383.5L1159.9 383.5M1148.8 383.5L1148.8 404.0M1145.5 404.0L1152.5 404.0M1145.5 404.0L1145.5 414.0M1144.3 414.0L1146.8 414.0M1144.3 414.0L1144.3 429.1M1146.8 414.0L1146.8 427.3M1143.5 429.1L1144.8 429.1M1143.5 429.1L1143.5 432.8M1144.8 429.1L1144.8 432.4M1143.5 432.8L1143.5 434.4M1144.8 432.4L1144.8 434.4M1146.3 427.3L1147.5 427.3M1146.3 427.3L1146.3 432.0M1147.5 427.3L1147.5 430.5M1146.3 432.0L1146.3 434.4M1147.5 430.5L1147.5 434.4M1152.5 404.0L1152.5 416.0M1150.0 416.0L1153.0 416.0M1150.0 416.0L1150.0 428.7M1153.0 416.0L1153.0 427.0M1149.2 428.7L1151.2 428.7M1149.2 428.7L1149.2 432.3M1151.2 428.7L1151.2 431.3M1149.2 432.3L1149.2 434.4M1151.2 431.3L1151.2 434.4M1153.0 427.0L1153.0 434.4M1159.9 383.5L1159.9 394.3M1157.2 394.3L1163.5 394.3M1157.2 394.3L1157.2 410.0M1155.8 410.0L1158.8 410.0M1155.8 410.0L1155.8 417.0M1158.8 410.0L1158.8 420.3M1154.9 417.0L1156.6 417.0M1154.9 417.0L1154.9 421.4M1156.6 417.0L1156.6 424.4M1154.9 421.4L1154.9 434.4M1156.6 424.4L1156.6 434.4M1158.2 420.3L1159.5 420.3M1158.2 420.3L1158.2 428.2M1159.5 420.3L1159.5 425.4M1158.2 428.2L1158.2 434.4M1159.5 425.4L1159.5 434.4M1163.5 394.3L1163.5 415.0M1162.7 415.0L1166.7 415.0M1162.7 415.0L1162.7 426.3M1166.7 415.0L1166.7 423.1M1161.5 426.3L1164.2 426.3M1161.5 426.3L1161.5 430.6M1164.2 426.3L1164.2 430.5M1160.7 430.6L1162.2 430.6M1160.7 430.6L1160.7 433.5M1162.2 430.6L1162.2 432.8M1160.7 433.5L1160.7 434.4M1162.2 432.8L1162.2 434.4M1163.7 430.5L1164.9 430.5M1163.7 430.5L1163.7 433.0M1164.9 430.5L1164.9 433.4M1163.7 433.0L1163.7 434.4M1164.9 433.4L1164.9 434.4M1165.8 423.1L1167.1 423.1M1165.8 423.1L1165.8 429.4M1167.1 423.1L1167.1 430.1M1165.8 429.4L1165.8 434.4M1167.1 430.1L1167.1 434.4M1188.9 332.7L1188.9 351.3M1175.2 351.3L1202.1 351.3M1175.2 351.3L1175.2 408.0M1172.0 408.0L1180.0 408.0M1172.0 408.0L1172.0 412.0M1169.4 412.0L1172.9 412.0M1169.4 412.0L1169.4 422.1M1172.9 412.0L1172.9 418.2M1168.5 422.1L1169.9 422.1M1168.5 422.1L1168.5 427.5M1169.9 422.1L1169.9 425.8M1168.5 427.5L1168.5 434.4M1169.9 425.8L1169.9 434.4M1171.7 418.2L1173.7 418.2M1171.7 418.2L1171.7 429.6M1173.7 418.2L1173.7 426.7M1171.7 429.6L1171.7 434.4M1173.1 426.7L1174.4 426.7M1173.1 426.7L1173.1 432.3M1174.4 426.7L1174.4 430.8M1173.1 432.3L1173.1 434.4M1174.4 430.8L1174.4 434.4M1180.0 408.0L1180.0 418.0M1177.8 418.0L1181.8 418.0M1177.8 418.0L1177.8 427.3M1181.8 418.0L1181.8 428.7M1175.9 427.3L1178.7 427.3M1175.9 427.3L1175.9 431.2M1178.7 427.3L1178.7 431.8M1175.9 431.2L1175.9 434.4M1178.7 431.8L1178.7 434.4M1181.0 428.7L1182.2 428.7M1181.0 428.7L1181.0 432.8M1182.2 428.7L1182.2 430.6M1181.0 432.8L1181.0 434.4M1182.2 430.6L1182.2 434.4M1202.1 351.3L1202.1 379.6M1192.4 379.6L1213.9 379.6M1192.4 379.6L1192.4 408.0M1187.9 408.0L1195.1 408.0M1187.9 408.0L1187.9 418.0M1184.7 418.0L1188.2 418.0M1184.7 418.0L1184.7 423.5M1188.2 418.0L1188.2 426.2M1183.9 423.5L1185.6 423.5M1183.9 423.5L1183.9 426.5M1185.6 423.5L1185.6 431.4M1183.9 426.5L1183.9 434.4M1185.6 431.4L1185.6 434.4M1187.3 426.2L1189.0 426.2M1187.3 426.2L1187.3 430.4M1189.0 426.2L1189.0 430.7M1187.3 430.4L1187.3 434.4M1189.0 430.7L1189.0 434.4M1195.1 408.0L1195.1 416.0M1191.8 416.0L1195.8 416.0M1191.8 416.0L1191.8 423.2M1195.8 416.0L1195.8 426.6M1190.9 423.2L1192.7 423.2M1190.9 423.2L1190.9 427.6M1192.7 423.2L1192.7 430.0M1190.9 427.6L1190.9 434.4M1192.7 430.0L1192.7 434.4M1194.5 426.6L1196.7 426.6M1194.5 426.6L1194.5 428.6M1196.7 426.6L1196.7 429.5M1194.5 428.6L1194.5 434.4M1195.8 429.5L1197.1 429.5M1195.8 429.5L1195.8 431.1M1197.1 429.5L1197.1 432.6M1195.8 431.1L1195.8 434.4M1197.1 432.6L1197.1 434.4M1213.9 379.6L1213.9 393.3M1203.5 393.3L1223.6 393.3M1203.5 393.3L1203.5 408.9M1200.5 408.9L1208.0 408.9M1200.5 408.9L1200.5 418.0M1199.1 418.0L1201.6 418.0M1199.1 418.0L1199.1 429.5M1201.6 418.0L1201.6 428.2M1198.4 429.5L1199.5 429.5M1198.4 429.5L1198.4 433.1M1199.5 429.5L1199.5 433.0M1198.4 433.1L1198.4 434.4M1199.5 433.0L1199.5 434.4M1200.7 428.2L1202.1 428.2M1200.7 428.2L1200.7 432.6M1202.1 428.2L1202.1 431.1M1200.7 432.6L1200.7 434.4M1202.1 431.1L1202.1 434.4M1208.0 408.9L1208.0 420.0M1205.2 420.0L1209.7 420.0M1205.2 420.0L1205.2 430.6M1209.7 420.0L1209.7 425.4M1204.1 430.6L1206.3 430.6M1204.1 430.6L1204.1 433.3M1206.3 430.6L1206.3 432.9M1204.1 433.3L1204.1 434.4M1206.3 432.9L1206.3 434.4M1208.5 425.4L1210.8 425.4M1208.5 425.4L1208.5 432.0M1210.8 425.4L1210.8 431.3M1208.5 432.0L1208.5 434.4M1210.8 431.3L1210.8 434.4M1223.6 393.3L1223.6 406.0M1218.6 406.0L1227.4 406.0M1218.6 406.0L1218.6 418.0M1214.7 418.0L1219.7 418.0M1214.7 418.0L1214.7 423.0M1219.7 418.0L1219.7 427.2M1213.3 423.0L1216.0 423.0M1213.3 423.0L1213.3 427.0M1216.0 423.0L1216.0 426.2M1212.7 427.0L1214.0 427.0M1212.7 427.0L1212.7 429.3M1214.0 427.0L1214.0 430.5M1212.7 429.3L1212.7 434.4M1214.0 430.5L1214.0 434.4M1215.4 426.2L1216.8 426.2M1215.4 426.2L1215.4 430.1M1216.8 426.2L1216.8 429.3M1215.4 430.1L1215.4 434.4M1216.8 429.3L1216.8 434.4M1218.6 427.2L1220.9 427.2M1218.6 427.2L1218.6 430.5M1220.9 427.2L1220.9 431.8M1218.0 430.5L1219.3 430.5M1218.0 430.5L1218.0 433.4M1219.3 430.5L1219.3 433.3M1218.0 433.4L1218.0 434.4M1219.3 433.3L1219.3 434.4M1220.9 431.8L1220.9 434.4M1227.4 406.0L1227.4 414.0M1225.8 414.0L1232.2 414.0M1225.8 414.0L1225.8 421.5M1232.2 414.0L1232.2 420.3M1224.5 421.5L1228.3 421.5M1224.5 421.5L1224.5 429.8M1228.3 421.5L1228.3 428.8M1223.1 429.8L1225.6 429.8M1223.1 429.8L1223.1 431.6M1225.6 429.8L1225.6 432.5M1223.1 431.6L1223.1 434.4M1225.6 432.5L1225.6 434.4M1227.7 428.8L1229.0 428.8M1227.7 428.8L1227.7 431.8M1229.0 428.8L1229.0 432.0M1227.7 431.8L1227.7 434.4M1229.0 432.0L1229.0 434.4M1231.2 420.3L1233.8 420.3M1231.2 420.3L1231.2 425.1M1233.8 420.3L1233.8 425.6M1230.7 425.1L1232.2 425.1M1230.7 425.1L1230.7 431.7M1232.2 425.1L1232.2 431.5M1230.7 431.7L1230.7 434.4M1232.2 431.5L1232.2 434.4M1233.8 425.6L1233.8 434.4" stroke="#6cc7b2" stroke-width="2.8" fill="none" stroke-linecap="round" stroke-linejoin="round"/><path d="M1218.3 188.0L1265.5 188.0M1265.3 188.0L1265.3 328.9M1247.1 328.8L1282.7 328.8M1247.1 328.8L1247.1 393.3M1240.6 393.3L1254.3 393.3M1240.6 393.3L1240.6 408.0M1237.8 408.0L1245.0 408.0M1237.8 408.0L1237.8 418.0M1235.6 418.0L1238.2 418.0M1235.6 418.0L1235.6 422.6M1238.2 418.0L1238.2 424.3M1235.6 422.6L1235.6 434.4M1237.3 424.3L1239.1 424.3M1237.3 424.3L1237.3 430.0M1239.1 424.3L1239.1 427.4M1237.3 430.0L1237.3 434.4M1239.1 427.4L1239.1 434.4M1245.0 408.0L1245.0 414.0M1241.8 414.0L1245.3 414.0M1241.8 414.0L1241.8 419.8M1245.3 414.0L1245.3 420.0M1241.0 419.8L1242.8 419.8M1241.0 419.8L1241.0 427.5M1242.8 419.8L1242.8 428.1M1241.0 427.5L1241.0 434.4M1242.8 428.1L1242.8 434.4M1244.4 420.0L1246.1 420.0M1244.4 420.0L1244.4 427.0M1246.1 420.0L1246.1 425.1M1244.4 427.0L1244.4 434.4M1246.1 425.1L1246.1 434.4M1254.3 393.3L1254.3 401.1M1250.4 401.1L1258.2 401.1M1250.4 401.1L1250.4 414.0M1248.3 414.0L1251.3 414.0M1248.3 414.0L1248.3 426.7M1251.3 414.0L1251.3 427.7M1247.4 426.7L1248.7 426.7M1247.4 426.7L1247.4 429.1M1248.7 426.7L1248.7 431.7M1247.4 429.1L1247.4 434.4M1248.7 431.7L1248.7 434.4M1250.6 427.7L1252.2 427.7M1250.6 427.7L1250.6 431.9M1252.2 427.7L1252.2 430.1M1250.6 431.9L1250.6 434.4M1252.2 430.1L1252.2 434.4M1258.2 401.1L1258.2 418.0M1255.1 418.0L1259.6 418.0M1255.1 418.0L1255.1 424.2M1259.6 418.0L1259.6 428.7M1253.9 424.2L1256.1 424.2M1253.9 424.2L1253.9 430.1M1256.1 424.2L1256.1 431.8M1253.9 430.1L1253.9 434.4M1256.1 431.8L1256.1 434.4M1258.3 428.7L1260.6 428.7M1258.3 428.7L1258.3 431.7M1260.6 428.7L1260.6 432.3M1258.3 431.7L1258.3 434.4M1260.6 432.3L1260.6 434.4M1282.7 328.8L1282.7 368.9M1273.9 368.9L1291.8 368.9M1273.9 368.9L1273.9 399.1M1269.4 399.1L1278.8 399.1M1269.4 399.1L1269.4 412.0M1265.3 412.0L1270.3 412.0M1265.3 412.0L1265.3 422.4M1270.3 412.0L1270.3 421.7M1263.1 422.4L1266.5 422.4M1263.1 422.4L1263.1 430.6M1266.5 422.4L1266.5 425.9M1262.4 430.6L1263.5 430.6M1262.4 430.6L1262.4 432.6M1263.5 430.6L1263.5 432.5M1262.4 432.6L1262.4 434.4M1263.5 432.5L1263.5 434.4M1265.5 425.9L1267.7 425.9M1265.5 425.9L1265.5 429.3M1267.7 425.9L1267.7 431.3M1264.7 429.3L1266.0 429.3M1264.7 429.3L1264.7 431.1M1266.0 429.3L1266.0 432.3M1264.7 431.1L1264.7 434.4M1266.0 432.3L1266.0 434.4M1267.7 431.3L1267.7 434.4M1269.2 421.7L1270.9 421.7M1269.2 421.7L1269.2 426.8M1270.9 421.7L1270.9 429.5M1269.2 426.8L1269.2 434.4M1270.4 429.5L1271.5 429.5M1270.4 429.5L1270.4 431.4M1271.5 429.5L1271.5 431.1M1270.4 431.4L1270.4 434.4M1271.5 431.1L1271.5 434.4M1278.8 399.1L1278.8 418.0M1274.2 418.0L1279.2 418.0M1274.2 418.0L1274.2 428.1M1279.2 418.0L1279.2 425.1M1272.8 428.1L1275.0 428.1M1272.8 428.1L1272.8 431.9M1275.0 428.1L1275.0 431.4M1272.8 431.9L1272.8 434.4M1275.0 431.4L1275.0 434.4M1278.3 425.1L1281.1 425.1M1278.3 425.1L1278.3 431.8M1281.1 425.1L1281.1 431.7M1278.3 431.8L1278.3 434.4M1281.1 431.7L1281.1 434.4M1291.8 368.9L1291.8 387.4M1286.2 387.4L1297.9 387.4M1286.2 387.4L1286.2 406.0M1283.0 406.0L1290.0 406.0M1283.0 406.0L1283.0 418.0M1283.2 418.0L1285.7 418.0M1283.2 418.0L1283.2 428.7M1285.7 418.0L1285.7 424.6M1282.5 428.7L1283.7 428.7M1282.5 428.7L1282.5 431.3M1283.7 428.7L1283.7 432.8M1282.5 431.3L1282.5 434.4M1283.7 432.8L1283.7 434.4M1285.2 424.6L1286.6 424.6M1285.2 424.6L1285.2 428.3M1286.6 424.6L1286.6 428.8M1285.2 428.3L1285.2 434.4M1286.6 428.8L1286.6 434.4M1290.0 406.0L1290.0 416.0M1288.1 416.0L1290.6 416.0M1288.1 416.0L1288.1 423.9M1290.6 416.0L1290.6 424.2M1287.5 423.9L1288.6 423.9M1287.5 423.9L1287.5 427.6M1288.6 423.9L1288.6 429.5M1287.5 427.6L1287.5 434.4M1288.6 429.5L1288.6 434.4M1290.1 424.2L1291.5 424.2M1290.1 424.2L1290.1 429.5M1291.5 424.2L1291.5 431.0M1290.1 429.5L1290.1 434.4M1291.5 431.0L1291.5 434.4M1297.9 387.4L1297.9 406.0M1293.4 406.0L1307.7 406.0M1293.4 406.0L1293.4 412.0M1294.1 412.0L1298.1 412.0M1294.1 412.0L1294.1 419.6M1298.1 412.0L1298.1 426.1M1293.4 419.6L1295.5 419.6M1293.4 419.6L1293.4 425.4M1295.5 419.6L1295.5 423.4M1292.7 425.4L1294.1 425.4M1292.7 425.4L1292.7 430.1M1294.1 425.4L1294.1 430.2M1292.7 430.1L1292.7 434.4M1294.1 430.2L1294.1 434.4M1295.5 423.4L1295.5 434.4M1297.5 426.1L1299.4 426.1M1297.5 426.1L1297.5 430.9M1299.4 426.1L1299.4 431.5M1296.6 430.9L1297.9 430.9M1296.6 430.9L1296.6 432.7M1297.9 430.9L1297.9 433.1M1296.6 432.7L1296.6 434.4M1297.9 433.1L1297.9 434.4M1299.4 431.5L1299.4 434.4M1307.7 406.0L1307.7 414.0M1302.1 414.0L1308.3 414.0M1302.1 414.0L1302.1 419.9M1308.3 414.0L1308.3 426.6M1301.4 419.9L1303.4 419.9M1301.4 419.9L1301.4 424.2M1303.4 419.9L1303.4 428.1M1300.5 424.2L1301.9 424.2M1300.5 424.2L1300.5 430.5M1301.9 424.2L1301.9 430.0M1300.5 430.5L1300.5 434.4M1301.9 430.0L1301.9 434.4M1303.4 428.1L1303.4 434.4M1305.8 426.6L1309.9 426.6M1305.8 426.6L1305.8 429.4M1309.9 426.6L1309.9 431.5M1305.0 429.4L1306.6 429.4M1305.0 429.4L1305.0 432.6M1306.6 429.4L1306.6 431.6M1305.0 432.6L1305.0 434.4M1306.6 431.6L1306.6 434.4M1309.9 431.5L1309.9 434.4" stroke="#f49ac3" stroke-width="2.8" fill="none" stroke-linecap="round" stroke-linejoin="round"/><path d="M971.5 41.5L1102.3 41.5M1102.3 41.5L1102.3 94.4M985.4 94.4L1218.3 94.4M985.4 94.4L985.4 245.2M1218.3 94.4L1218.3 188.0M985.4 245.2L1033.1 245.2M1033.1 245.2L1033.1 255.3" stroke="#000000" stroke-width="2.8" fill="none" stroke-linecap="round" stroke-linejoin="round"/><rect x="785.7" y="426.3" width="131.5" height="9.0" fill="#fec92e"/><rect x="917.2" y="426.3" width="57.5" height="9.0" fill="#ee363b"/><rect x="974.7" y="426.3" width="51.5" height="9.0" fill="#6ebe44"/><rect x="1026.2" y="426.3" width="116.8" height="9.0" fill="#528fce"/><rect x="1143.0" y="426.3" width="91.8" height="9.0" fill="#6cc7b2"/><rect x="1234.8" y="426.3" width="77.6" height="9.0" fill="#f49ac3"/><path d="M765.5 68.3V434.4M754 434.4H765.5M754 361.4H765.5M754 288.4H765.5M754 215.4H765.5M754 142.4H765.5M754 69.4H765.5" stroke="#231f20" stroke-width="1.5" fill="none"/><path d="M765.5 270.7H1190M1190 270.2H1334.5" stroke="#e42a30" stroke-width="1.8" fill="none"/><rect x="306.2" y="561.6" width="13.2" height="13.4" fill="#fec92e"/><rect x="306.2" y="590.1" width="13.2" height="13.4" fill="#ee363b"/><rect x="556.5" y="561.6" width="13.2" height="13.4" fill="#6ebe44"/><rect x="556.5" y="590.1" width="13.2" height="13.4" fill="#528fce"/><rect x="804.6" y="561.6" width="13.2" height="13.4" fill="#6cc7b2"/><rect x="804.6" y="590.1" width="13.2" height="13.4" fill="#f49ac3"/><g fill="#111111" font-family='"Liberation Sans", sans-serif'><text x="1.2" y="24.0" font-size="30.0" text-anchor="start" font-weight="bold" stroke="#111111" stroke-width="0.5">A</text><text x="621.2" y="23.8" font-size="30.0" text-anchor="start" font-weight="bold" stroke="#111111" stroke-width="0.5">B</text><text x="134.7" y="427.2" font-size="19.0" text-anchor="middle" font-weight="normal" stroke="#111111" stroke-width="0.25">-4</text><text x="208.4" y="427.2" font-size="19.0" text-anchor="middle" font-weight="normal" stroke="#111111" stroke-width="0.25">-2</text><text x="284.3" y="427.2" font-size="19.0" text-anchor="middle" font-weight="normal" stroke="#111111" stroke-width="0.25">0</text><text x="358.1" y="427.2" font-size="19.0" text-anchor="middle" font-weight="normal" stroke="#111111" stroke-width="0.25">2</text><text x="431.8" y="427.2" font-size="19.0" text-anchor="middle" font-weight="normal" stroke="#111111" stroke-width="0.25">4</text><text x="505.6" y="427.2" font-size="19.0" text-anchor="middle" font-weight="normal" stroke="#111111" stroke-width="0.25">6</text><text x="579.3" y="427.2" font-size="19.0" text-anchor="middle" font-weight="normal" stroke="#111111" stroke-width="0.25">8</text><text x="356.3" y="474.8" font-size="23.0" text-anchor="middle" font-weight="normal" stroke="#111111" stroke-width="0.25">PC1</text><text x="605.9" y="87.3" font-size="19.0" text-anchor="middle" font-weight="normal" transform="rotate(-90 605.9 87.3)" stroke="#111111" stroke-width="0.25">6</text><text x="605.9" y="140.0" font-size="19.0" text-anchor="middle" font-weight="normal" transform="rotate(-90 605.9 140.0)" stroke="#111111" stroke-width="0.25">4</text><text x="605.9" y="192.6" font-size="19.0" text-anchor="middle" font-weight="normal" transform="rotate(-90 605.9 192.6)" stroke="#111111" stroke-width="0.25">2</text><text x="605.9" y="245.3" font-size="19.0" text-anchor="middle" font-weight="normal" transform="rotate(-90 605.9 245.3)" stroke="#111111" stroke-width="0.25">0</text><text x="605.9" y="301.0" font-size="19.0" text-anchor="middle" font-weight="normal" transform="rotate(-90 605.9 301.0)" stroke="#111111" stroke-width="0.25">-2</text><text x="605.9" y="353.7" font-size="19.0" text-anchor="middle" font-weight="normal" transform="rotate(-90 605.9 353.7)" stroke="#111111" stroke-width="0.25">-4</text><text x="605.9" y="406.3" font-size="19.0" text-anchor="middle" font-weight="normal" transform="rotate(-90 605.9 406.3)" stroke="#111111" stroke-width="0.25">-6</text><text x="653.3" y="247.6" font-size="23.0" text-anchor="middle" font-weight="normal" transform="rotate(-90 653.3 247.6)" stroke="#111111" stroke-width="0.25">PC2</text><text x="19.6" y="358.2" font-size="23.0" text-anchor="middle" font-weight="normal" transform="rotate(-90 19.6 358.2)" stroke="#111111" stroke-width="0.25">PC3</text><text x="47.5" y="365.4" font-size="19.0" text-anchor="end" font-weight="normal" stroke="#111111" stroke-width="0.25">6</text><text x="60.4" y="374.8" font-size="19.0" text-anchor="end" font-weight="normal" stroke="#111111" stroke-width="0.25">4</text><text x="73.2" y="384.1" font-size="19.0" text-anchor="end" font-weight="normal" stroke="#111111" stroke-width="0.25">2</text><text x="86.1" y="393.5" font-size="19.0" text-anchor="end" font-weight="normal" stroke="#111111" stroke-width="0.25">0</text><text x="98.9" y="402.8" font-size="19.0" text-anchor="end" font-weight="normal" stroke="#111111" stroke-width="0.25">-2</text><text x="111.8" y="412.2" font-size="19.0" text-anchor="end" font-weight="normal" stroke="#111111" stroke-width="0.25">-4</text><text x="738.3" y="434.4" font-size="19.5" text-anchor="middle" font-weight="normal" transform="rotate(-90 738.3 434.4)" stroke="#111111" stroke-width="0.25">0</text><text x="738.3" y="361.4" font-size="19.5" text-anchor="middle" font-weight="normal" transform="rotate(-90 738.3 361.4)" stroke="#111111" stroke-width="0.25">20</text><text x="738.3" y="288.4" font-size="19.5" text-anchor="middle" font-weight="normal" transform="rotate(-90 738.3 288.4)" stroke="#111111" stroke-width="0.25">40</text><text x="738.3" y="215.4" font-size="19.5" text-anchor="middle" font-weight="normal" transform="rotate(-90 738.3 215.4)" stroke="#111111" stroke-width="0.25">60</text><text x="738.3" y="142.4" font-size="19.5" text-anchor="middle" font-weight="normal" transform="rotate(-90 738.3 142.4)" stroke="#111111" stroke-width="0.25">80</text><text x="738.3" y="69.4" font-size="19.5" text-anchor="middle" font-weight="normal" transform="rotate(-90 738.3 69.4)" stroke="#111111" stroke-width="0.25">100</text><text x="333.8" y="577.6" font-size="24.0" text-anchor="start" font-weight="normal" stroke="#111111" stroke-width="0.25">Shallow exploratory</text><text x="333.8" y="606.1" font-size="24.0" text-anchor="start" font-weight="normal" stroke="#111111" stroke-width="0.25">Long non-active</text><text x="584.1" y="577.6" font-size="24.0" text-anchor="start" font-weight="normal" stroke="#111111" stroke-width="0.25">Shallow active</text><text x="584.1" y="606.1" font-size="24.0" text-anchor="start" font-weight="normal" stroke="#111111" stroke-width="0.25">Deep exploratory</text><text x="832.2" y="577.6" font-size="24.0" text-anchor="start" font-weight="normal" stroke="#111111" stroke-width="0.25">Deep active</text><text x="832.2" y="606.1" font-size="24.0" text-anchor="start" font-weight="normal" stroke="#111111" stroke-width="0.25">Variable</text></g></svg></body></html>
